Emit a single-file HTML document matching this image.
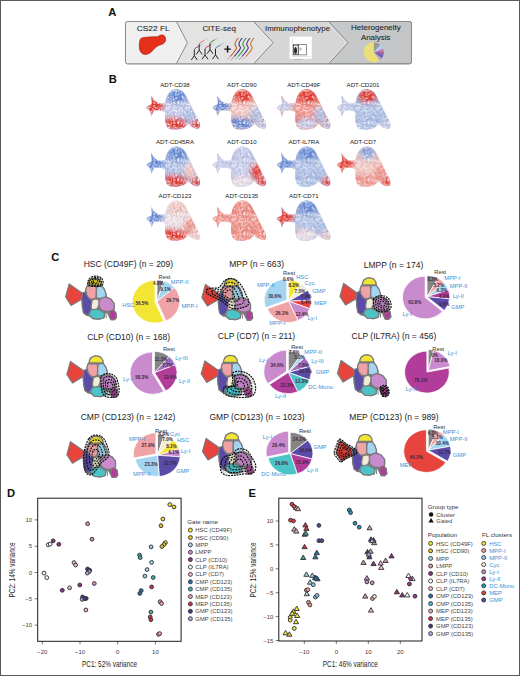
<!DOCTYPE html><html><head><meta charset="utf-8"><style>
html,body{margin:0;padding:0;background:#fff;}
body{width:520px;height:676px;overflow:hidden;position:relative;font-family:"Liberation Sans", sans-serif;}
#frame{position:absolute;left:0;top:0;width:518px;height:674px;border:1px solid #5a5a5a;}
svg{position:absolute;left:0;top:0;}
</style></head><body><div id="frame"></div>
<svg width="520" height="676" viewBox="0 0 520 676" font-family='"Liberation Sans", sans-serif'>

<text x="108.3" y="16.2" font-size="11.2" font-weight="bold" fill="#111">A</text>
<text x="108.8" y="83.1" font-size="11.2" font-weight="bold" fill="#111">B</text>
<text x="51.2" y="260.6" font-size="11.2" font-weight="bold" fill="#111">C</text>
<text x="7" y="497" font-size="11.2" font-weight="bold" fill="#111">D</text>
<text x="248.5" y="497" font-size="11.2" font-weight="bold" fill="#111">E</text>
<defs><linearGradient id="seg4" x1="0" y1="0" x2="1" y2="0"><stop offset="0" stop-color="#cfd0d1"/><stop offset="1" stop-color="#c3c5c7"/></linearGradient></defs>
<rect x="125.5" y="21.5" width="286.0" height="42.3" rx="2" fill="url(#seg4)" stroke="#8d8d8d" stroke-width="1"/>
<path d="M125.5,21.5 L328.6,21.5 L348.1,42.7 L328.6,63.8 L125.5,63.8 Z" fill="#d6d6d6"/>
<path d="M125.5,21.5 L253.6,21.5 L273.1,42.7 L253.6,63.8 L125.5,63.8 Z" fill="#e3e3e3"/>
<path d="M125.5,21.5 L176.4,21.5 L187.3,42.7 L176.4,63.8 L125.5,63.8 Z" fill="#efefef"/>
<path d="M176.4,21.5 L187.3,42.7 L176.4,63.8" fill="none" stroke="#7e7e7e" stroke-width="0.9"/>
<path d="M175.20000000000002,22.3 L186.0,42.7 L175.20000000000002,63.0" fill="none" stroke="#fafafa" stroke-width="0.6" opacity="0.8"/>
<path d="M253.6,21.5 L273.1,42.7 L253.6,63.8" fill="none" stroke="#7e7e7e" stroke-width="0.9"/>
<path d="M252.4,22.3 L271.8,42.7 L252.4,63.0" fill="none" stroke="#fafafa" stroke-width="0.6" opacity="0.8"/>
<path d="M328.6,21.5 L348.1,42.7 L328.6,63.8" fill="none" stroke="#7e7e7e" stroke-width="0.9"/>
<path d="M327.40000000000003,22.3 L346.8,42.7 L327.40000000000003,63.0" fill="none" stroke="#fafafa" stroke-width="0.6" opacity="0.8"/>
<rect x="125.5" y="21.5" width="286.0" height="42.3" rx="2" fill="none" stroke="#8a8a8a" stroke-width="1"/>
<text x="136.8" y="31.2" font-size="7.8" fill="#1e1e1e" stroke="#1e1e1e" stroke-width="0.08" textLength="32.8" lengthAdjust="spacingAndGlyphs">CS22 FL</text>
<text x="202.4" y="31.3" font-size="7.8" fill="#1e1e1e" stroke="#1e1e1e" stroke-width="0.08" textLength="33.4" lengthAdjust="spacingAndGlyphs">CITE-seq</text>
<text x="265.1" y="31.2" font-size="7.8" fill="#1e1e1e" stroke="#1e1e1e" stroke-width="0.08" textLength="64.9" lengthAdjust="spacingAndGlyphs">Immunophenotype</text>
<text x="351.0" y="30.2" font-size="7.8" fill="#1e1e1e" stroke="#1e1e1e" stroke-width="0.08" textLength="49.8" lengthAdjust="spacingAndGlyphs">Heterogeneity</text>
<text x="360.9" y="39.9" font-size="7.8" fill="#1e1e1e" stroke="#1e1e1e" stroke-width="0.08" textLength="29.6" lengthAdjust="spacingAndGlyphs">Analysis</text>
<path d="M140.9,38.4 C143,37.2 150,36.9 157.8,36.8 C159.3,35.4 161,34.8 162.6,35 C165.2,35.5 166.1,38.5 165.4,41 C164.7,43.2 162.5,44.4 160,44.9 C157.6,45.5 156,47 154.5,48.6 C152.5,51 150,53.6 147,54.3 C144,54.9 141,53.6 140,50.5 C139,47 139,41 140.9,38.4 Z" fill="#e6301c" stroke="#a8200f" stroke-width="0.7"/>
<path d="M191.3,60.0 L194.3,55.7 L197.3,60.0 M194.3,55.7 L194.3,49.7" stroke="#1a1a1a" stroke-width="0.95" fill="none" stroke-linejoin="round"/><path d="M194.3,49.7 Q194.9,47.7 197.3,47.1 L199.3,45.900000000000006" stroke="#7a4a9a" stroke-width="1.0" fill="none"/><path d="M199.3,45.900000000000006 L202.8,43.900000000000006" stroke="#7a4a9a" stroke-width="0.8" fill="none" opacity="0.4"/>
<path d="M196.2,54.5 L199.2,50.2 L202.2,54.5 M199.2,50.2 L199.2,44.2" stroke="#1a1a1a" stroke-width="0.95" fill="none" stroke-linejoin="round"/><path d="M199.2,44.2 Q199.79999999999998,42.2 202.2,41.6 L204.2,40.400000000000006" stroke="#e07090" stroke-width="1.0" fill="none"/><path d="M204.2,40.400000000000006 L207.7,38.400000000000006" stroke="#e07090" stroke-width="0.8" fill="none" opacity="0.4"/>
<path d="M202,59.3 L205,55 L208,59.3 M205,55 L205,49" stroke="#1a1a1a" stroke-width="0.95" fill="none" stroke-linejoin="round"/><path d="M205,49 Q205.6,47 208,46.4 L210,45.2" stroke="#c04a5a" stroke-width="1.0" fill="none"/><path d="M210,45.2 L213.5,43.2" stroke="#c04a5a" stroke-width="0.8" fill="none" opacity="0.4"/>
<path d="M207,53.8 L210,49.5 L213,53.8 M210,49.5 L210,43.5" stroke="#1a1a1a" stroke-width="0.95" fill="none" stroke-linejoin="round"/><path d="M210,43.5 Q210.6,41.5 213,40.9 L215,39.7" stroke="#3f8f55" stroke-width="1.0" fill="none"/><path d="M215,39.7 L218.5,37.7" stroke="#3f8f55" stroke-width="0.8" fill="none" opacity="0.4"/>
<path d="M212.5,59.099999999999994 L215.5,54.8 L218.5,59.099999999999994 M215.5,54.8 L215.5,48.8" stroke="#1a1a1a" stroke-width="0.95" fill="none" stroke-linejoin="round"/><path d="M215.5,48.8 Q216.1,46.8 218.5,46.199999999999996 L220.5,45.0" stroke="#4a80b0" stroke-width="1.0" fill="none"/><path d="M220.5,45.0 L224.0,43.0" stroke="#4a80b0" stroke-width="0.8" fill="none" opacity="0.4"/>
<path d="M224.3,49.1 H230.9 M227.6,45.8 V52.4" stroke="#111" stroke-width="1.45"/>
<path d="M238.3,38 C237.10000000000002,40 234.5,42 235.0,44.3 S237.10000000000002,47 236.5,48.4 S234.3,51.5 233.3,53 L230.3,56.5" stroke="#d0582a" stroke-width="1.1" fill="none"/>
<path d="M230.3,56.5 L227.3,59.8" stroke="#d0582a" stroke-width="0.9" fill="none" opacity="0.5"/>
<path d="M242.20000000000002,38 C241.00000000000003,40 238.4,42 238.9,44.3 S241.00000000000003,47 240.4,48.4 S238.20000000000002,51.5 237.20000000000002,53 L234.20000000000002,56.5" stroke="#3a2a8a" stroke-width="1.1" fill="none"/>
<path d="M234.20000000000002,56.5 L231.20000000000002,59.8" stroke="#3a2a8a" stroke-width="0.9" fill="none" opacity="0.5"/>
<path d="M246.10000000000002,38 C244.90000000000003,40 242.3,42 242.8,44.3 S244.90000000000003,47 244.3,48.4 S242.10000000000002,51.5 241.10000000000002,53 L238.10000000000002,56.5" stroke="#2a9a3a" stroke-width="1.1" fill="none"/>
<path d="M238.10000000000002,56.5 L235.10000000000002,59.8" stroke="#2a9a3a" stroke-width="0.9" fill="none" opacity="0.5"/>
<path d="M250.0,38 C248.8,40 246.2,42 246.7,44.3 S248.8,47 248.2,48.4 S246.0,51.5 245.0,53 L242.0,56.5" stroke="#5a2a8a" stroke-width="1.1" fill="none"/>
<path d="M242.0,56.5 L239.0,59.8" stroke="#5a2a8a" stroke-width="0.9" fill="none" opacity="0.5"/>
<path d="M253.9,38 C252.70000000000002,40 250.1,42 250.6,44.3 S252.70000000000002,47 252.1,48.4 S249.9,51.5 248.9,53 L245.9,56.5" stroke="#d8702a" stroke-width="1.1" fill="none"/>
<path d="M245.9,56.5 L242.9,59.8" stroke="#d8702a" stroke-width="0.9" fill="none" opacity="0.5"/>
<rect x="289.6" y="36.6" width="22.2" height="22.2" fill="#ffffff"/>
<path d="M292.5,38 V56.5 H310.5" stroke="#bbb" stroke-width="0.4" fill="none"/>
<rect x="293.2" y="44.3" width="13.3" height="10.6" fill="none" stroke="#444" stroke-width="0.6"/>
<rect x="293.6" y="45.5" width="4.6" height="9" fill="none" stroke="#333" stroke-width="0.5"/>
<ellipse cx="295.5" cy="50.5" rx="1.5" ry="3.5" fill="#2a2a2a"/>
<ellipse cx="300.5" cy="49" rx="1.2" ry="1.8" fill="#999" opacity="0.7"/>
<line x1="298.3" y1="44.3" x2="298.3" y2="54.9" stroke="#222" stroke-width="0.6"/>
<text x="293" y="59.6" font-size="1.6" fill="#777">-10 10  10  10</text>
<defs><clipPath id="picl"><rect x="360" y="40" width="24.2" height="24"/></clipPath></defs>
<g clip-path="url(#picl)" opacity="0.92">
<path d="M373.80,52.30 L373.80,42.30 A10,10 0 0 1 380.49,44.87 Z" fill="#9a9594"/>
<path d="M373.80,52.30 L380.49,44.87 A10,10 0 0 1 383.07,48.55 Z" fill="#a8d4ec"/>
<path d="M373.80,52.30 L383.07,48.55 A10,10 0 0 1 383.78,51.60 Z" fill="#c878c0"/>
<path d="M373.80,52.30 L383.78,51.60 A10,10 0 0 1 383.65,54.04 Z" fill="#b04a8a"/>
<path d="M373.80,52.30 L383.65,54.04 A10,10 0 0 1 381.68,58.46 Z" fill="#6a5ab0"/>
<path d="M373.80,52.30 L381.68,58.46 A10,10 0 0 1 379.39,60.59 Z" fill="#c8a0d8"/>
<path d="M373.80,52.30 L379.39,60.59 A10,10 0 1 1 373.80,42.30 Z" fill="#f0e274"/>
</g>
<defs><filter id="ub" x="-30%" y="-30%" width="160%" height="160%"><feGaussianBlur stdDeviation="2.4"/></filter>
<pattern id="spk" width="20" height="20" patternUnits="userSpaceOnUse"><circle cx="4.8" cy="10.9" r="0.56" fill="#5a0010" opacity="0.13"/><circle cx="12.5" cy="1.3" r="0.45" fill="#5a0010" opacity="0.15"/><circle cx="5.2" cy="4.7" r="0.75" fill="#5a0010" opacity="0.12"/><circle cx="16.7" cy="9.5" r="0.64" fill="#5a0010" opacity="0.09"/><circle cx="12.7" cy="17.4" r="0.61" fill="#5a0010" opacity="0.14"/><circle cx="13.4" cy="1.3" r="0.68" fill="#5a0010" opacity="0.13"/><circle cx="6.0" cy="0.6" r="0.71" fill="#5a0010" opacity="0.12"/><circle cx="14.4" cy="17.6" r="0.66" fill="#5a0010" opacity="0.15"/><circle cx="7.9" cy="16.0" r="0.58" fill="#5a0010" opacity="0.15"/><circle cx="17.6" cy="1.9" r="0.49" fill="#5a0010" opacity="0.10"/><circle cx="19.3" cy="8.7" r="0.64" fill="#5a0010" opacity="0.10"/><circle cx="10.1" cy="7.7" r="0.56" fill="#5a0010" opacity="0.13"/><circle cx="11.7" cy="18.1" r="0.65" fill="#5a0010" opacity="0.15"/><circle cx="17.1" cy="19.8" r="0.65" fill="#5a0010" opacity="0.09"/><circle cx="17.2" cy="19.3" r="0.72" fill="#5a0010" opacity="0.13"/><circle cx="14.3" cy="4.2" r="0.70" fill="#5a0010" opacity="0.13"/><circle cx="5.7" cy="1.3" r="0.71" fill="#5a0010" opacity="0.16"/><circle cx="1.8" cy="16.0" r="0.57" fill="#5a0010" opacity="0.09"/><circle cx="5.9" cy="15.4" r="0.71" fill="#5a0010" opacity="0.08"/><circle cx="12.3" cy="0.9" r="0.67" fill="#5a0010" opacity="0.11"/><circle cx="17.6" cy="19.6" r="0.60" fill="#5a0010" opacity="0.16"/><circle cx="6.2" cy="1.5" r="0.63" fill="#5a0010" opacity="0.08"/><circle cx="3.9" cy="8.2" r="0.63" fill="#5a0010" opacity="0.09"/><circle cx="0.8" cy="17.4" r="0.54" fill="#5a0010" opacity="0.16"/><circle cx="17.9" cy="7.6" r="0.59" fill="#5a0010" opacity="0.12"/><circle cx="12.9" cy="11.9" r="0.62" fill="#5a0010" opacity="0.13"/><circle cx="18.8" cy="10.1" r="0.58" fill="#5a0010" opacity="0.14"/><circle cx="4.8" cy="6.0" r="0.74" fill="#5a0010" opacity="0.12"/><circle cx="11.0" cy="0.2" r="0.57" fill="#5a0010" opacity="0.13"/><circle cx="0.4" cy="12.3" r="0.64" fill="#5a0010" opacity="0.08"/><circle cx="12.5" cy="9.3" r="0.65" fill="#5a0010" opacity="0.11"/><circle cx="14.1" cy="14.8" r="0.46" fill="#5a0010" opacity="0.08"/><circle cx="13.5" cy="19.3" r="0.53" fill="#5a0010" opacity="0.12"/><circle cx="11.9" cy="6.4" r="0.56" fill="#5a0010" opacity="0.11"/><circle cx="7.4" cy="11.9" r="0.54" fill="#5a0010" opacity="0.11"/><circle cx="15.4" cy="0.5" r="0.62" fill="#5a0010" opacity="0.14"/><circle cx="6.2" cy="4.5" r="0.69" fill="#5a0010" opacity="0.10"/><circle cx="3.7" cy="8.7" r="0.66" fill="#5a0010" opacity="0.09"/><circle cx="6.4" cy="6.7" r="0.70" fill="#5a0010" opacity="0.12"/><circle cx="17.1" cy="3.4" r="0.55" fill="#5a0010" opacity="0.13"/><circle cx="17.7" cy="9.0" r="0.52" fill="#5a0010" opacity="0.09"/><circle cx="10.6" cy="3.8" r="0.69" fill="#5a0010" opacity="0.15"/><circle cx="3.7" cy="5.6" r="0.69" fill="#5a0010" opacity="0.13"/><circle cx="16.1" cy="6.9" r="0.49" fill="#5a0010" opacity="0.10"/><circle cx="15.9" cy="5.4" r="0.55" fill="#5a0010" opacity="0.11"/><circle cx="8.4" cy="8.2" r="0.73" fill="#5a0010" opacity="0.09"/><circle cx="0.1" cy="18.9" r="0.71" fill="#5a0010" opacity="0.16"/><circle cx="8.7" cy="19.0" r="0.73" fill="#5a0010" opacity="0.10"/><circle cx="14.9" cy="16.7" r="0.65" fill="#5a0010" opacity="0.12"/><circle cx="5.8" cy="6.8" r="0.52" fill="#5a0010" opacity="0.09"/><circle cx="11.8" cy="5.7" r="0.69" fill="#5a0010" opacity="0.08"/><circle cx="18.1" cy="13.9" r="0.73" fill="#5a0010" opacity="0.15"/><circle cx="18.0" cy="11.5" r="0.45" fill="#5a0010" opacity="0.14"/><circle cx="3.4" cy="6.0" r="0.65" fill="#5a0010" opacity="0.12"/><circle cx="8.3" cy="18.8" r="0.63" fill="#5a0010" opacity="0.11"/><circle cx="5.0" cy="17.2" r="0.59" fill="#5a0010" opacity="0.14"/><circle cx="7.0" cy="3.9" r="0.61" fill="#5a0010" opacity="0.15"/><circle cx="3.4" cy="15.8" r="0.73" fill="#5a0010" opacity="0.14"/><circle cx="16.5" cy="0.2" r="0.64" fill="#5a0010" opacity="0.15"/><circle cx="1.0" cy="5.4" r="0.53" fill="#5a0010" opacity="0.12"/><circle cx="8.5" cy="9.5" r="0.75" fill="#fff" opacity="0.45"/><circle cx="1.1" cy="2.5" r="0.46" fill="#fff" opacity="0.48"/><circle cx="19.5" cy="17.1" r="0.44" fill="#fff" opacity="0.68"/><circle cx="6.3" cy="6.3" r="0.56" fill="#fff" opacity="0.74"/><circle cx="11.7" cy="7.2" r="0.49" fill="#fff" opacity="0.60"/><circle cx="2.5" cy="11.1" r="0.72" fill="#fff" opacity="0.62"/><circle cx="1.6" cy="3.6" r="0.57" fill="#fff" opacity="0.72"/><circle cx="15.7" cy="7.6" r="0.76" fill="#fff" opacity="0.73"/><circle cx="8.6" cy="7.4" r="0.62" fill="#fff" opacity="0.77"/><circle cx="8.4" cy="13.9" r="0.61" fill="#fff" opacity="0.56"/><circle cx="10.7" cy="13.9" r="0.43" fill="#fff" opacity="0.64"/><circle cx="8.5" cy="17.6" r="0.82" fill="#fff" opacity="0.62"/><circle cx="18.0" cy="15.8" r="0.52" fill="#fff" opacity="0.66"/><circle cx="2.5" cy="16.3" r="0.70" fill="#fff" opacity="0.85"/><circle cx="15.8" cy="13.4" r="0.73" fill="#fff" opacity="0.70"/><circle cx="2.1" cy="11.8" r="0.40" fill="#fff" opacity="0.51"/><circle cx="15.5" cy="0.9" r="0.44" fill="#fff" opacity="0.49"/><circle cx="17.6" cy="3.6" r="0.41" fill="#fff" opacity="0.83"/><circle cx="2.4" cy="16.9" r="0.70" fill="#fff" opacity="0.83"/><circle cx="19.0" cy="11.6" r="0.76" fill="#fff" opacity="0.47"/><circle cx="15.3" cy="10.2" r="0.72" fill="#fff" opacity="0.50"/><circle cx="15.0" cy="18.7" r="0.43" fill="#fff" opacity="0.60"/><circle cx="11.3" cy="16.6" r="0.51" fill="#fff" opacity="0.53"/><circle cx="5.0" cy="12.3" r="0.74" fill="#fff" opacity="0.63"/><circle cx="7.3" cy="7.9" r="0.56" fill="#fff" opacity="0.64"/><circle cx="1.7" cy="10.0" r="0.84" fill="#fff" opacity="0.64"/><circle cx="14.9" cy="3.2" r="0.71" fill="#fff" opacity="0.79"/><circle cx="13.5" cy="10.3" r="0.62" fill="#fff" opacity="0.74"/><circle cx="17.9" cy="3.0" r="0.44" fill="#fff" opacity="0.79"/><circle cx="18.3" cy="10.3" r="0.60" fill="#fff" opacity="0.77"/><circle cx="3.7" cy="5.3" r="0.49" fill="#fff" opacity="0.71"/><circle cx="6.3" cy="4.6" r="0.71" fill="#fff" opacity="0.88"/><circle cx="5.9" cy="14.1" r="0.59" fill="#fff" opacity="0.83"/><circle cx="11.7" cy="5.3" r="0.50" fill="#fff" opacity="0.46"/><circle cx="9.6" cy="7.7" r="0.48" fill="#fff" opacity="0.61"/><circle cx="6.4" cy="15.5" r="0.46" fill="#fff" opacity="0.90"/><circle cx="9.6" cy="12.0" r="0.61" fill="#fff" opacity="0.83"/><circle cx="16.4" cy="11.1" r="0.62" fill="#fff" opacity="0.77"/><circle cx="17.1" cy="8.0" r="0.73" fill="#fff" opacity="0.88"/><circle cx="9.3" cy="4.6" r="0.51" fill="#fff" opacity="0.77"/><circle cx="13.5" cy="19.2" r="0.78" fill="#fff" opacity="0.56"/><circle cx="3.8" cy="5.2" r="0.48" fill="#fff" opacity="0.77"/><circle cx="17.2" cy="18.0" r="0.51" fill="#fff" opacity="0.84"/><circle cx="6.3" cy="8.5" r="0.73" fill="#fff" opacity="0.49"/><circle cx="1.9" cy="16.7" r="0.53" fill="#fff" opacity="0.61"/><circle cx="11.6" cy="13.5" r="0.40" fill="#fff" opacity="0.60"/><circle cx="8.7" cy="9.7" r="0.49" fill="#fff" opacity="0.71"/><circle cx="19.1" cy="7.8" r="0.64" fill="#fff" opacity="0.50"/><circle cx="5.5" cy="13.3" r="0.45" fill="#fff" opacity="0.85"/><circle cx="18.2" cy="1.9" r="0.82" fill="#fff" opacity="0.62"/><circle cx="15.4" cy="15.1" r="0.53" fill="#fff" opacity="0.75"/><circle cx="13.1" cy="16.1" r="0.52" fill="#fff" opacity="0.79"/><circle cx="19.2" cy="13.5" r="0.64" fill="#fff" opacity="0.50"/><circle cx="9.9" cy="7.0" r="0.72" fill="#fff" opacity="0.76"/><circle cx="11.3" cy="3.6" r="0.69" fill="#fff" opacity="0.73"/><circle cx="3.6" cy="17.8" r="0.69" fill="#fff" opacity="0.51"/><circle cx="18.6" cy="2.8" r="0.55" fill="#fff" opacity="0.77"/><circle cx="11.9" cy="11.1" r="0.69" fill="#fff" opacity="0.66"/><circle cx="6.2" cy="3.5" r="0.43" fill="#fff" opacity="0.77"/><circle cx="15.1" cy="10.9" r="0.73" fill="#fff" opacity="0.61"/><circle cx="5.3" cy="7.7" r="0.79" fill="#fff" opacity="0.47"/><circle cx="10.1" cy="4.9" r="0.75" fill="#fff" opacity="0.61"/><circle cx="6.7" cy="8.1" r="0.64" fill="#fff" opacity="0.80"/><circle cx="7.1" cy="16.9" r="0.45" fill="#fff" opacity="0.57"/><circle cx="2.0" cy="2.3" r="0.75" fill="#fff" opacity="0.78"/><circle cx="3.7" cy="3.8" r="0.59" fill="#fff" opacity="0.78"/><circle cx="16.3" cy="15.0" r="0.67" fill="#fff" opacity="0.52"/><circle cx="8.0" cy="3.9" r="0.64" fill="#fff" opacity="0.71"/><circle cx="4.0" cy="5.0" r="0.75" fill="#fff" opacity="0.46"/><circle cx="16.1" cy="17.8" r="0.83" fill="#fff" opacity="0.62"/><circle cx="11.1" cy="11.7" r="0.69" fill="#fff" opacity="0.89"/><circle cx="13.7" cy="6.0" r="0.79" fill="#fff" opacity="0.67"/><circle cx="12.0" cy="14.5" r="0.40" fill="#fff" opacity="0.80"/><circle cx="13.2" cy="9.8" r="0.64" fill="#fff" opacity="0.66"/><circle cx="3.9" cy="10.6" r="0.42" fill="#fff" opacity="0.68"/><circle cx="12.9" cy="8.9" r="0.65" fill="#fff" opacity="0.88"/><circle cx="17.8" cy="2.7" r="0.76" fill="#fff" opacity="0.73"/><circle cx="1.0" cy="7.2" r="0.51" fill="#fff" opacity="0.49"/><circle cx="10.8" cy="18.6" r="0.55" fill="#fff" opacity="0.84"/><circle cx="13.9" cy="2.7" r="0.79" fill="#fff" opacity="0.72"/><circle cx="18.5" cy="14.3" r="0.73" fill="#fff" opacity="0.60"/><circle cx="16.1" cy="18.6" r="0.79" fill="#fff" opacity="0.65"/><circle cx="15.1" cy="9.7" r="0.45" fill="#fff" opacity="0.47"/><circle cx="1.6" cy="4.0" r="0.47" fill="#fff" opacity="0.67"/><circle cx="14.0" cy="10.7" r="0.59" fill="#fff" opacity="0.74"/><circle cx="6.1" cy="9.3" r="0.74" fill="#fff" opacity="0.63"/><circle cx="3.6" cy="18.0" r="0.72" fill="#fff" opacity="0.62"/><circle cx="7.4" cy="10.6" r="0.67" fill="#fff" opacity="0.55"/><circle cx="0.1" cy="4.2" r="0.75" fill="#fff" opacity="0.51"/><circle cx="9.2" cy="3.9" r="0.49" fill="#fff" opacity="0.53"/><circle cx="8.1" cy="3.4" r="0.41" fill="#fff" opacity="0.50"/><circle cx="3.4" cy="9.8" r="0.43" fill="#fff" opacity="0.46"/><circle cx="9.0" cy="8.2" r="0.72" fill="#fff" opacity="0.47"/><circle cx="8.1" cy="7.9" r="0.41" fill="#fff" opacity="0.88"/><circle cx="4.4" cy="1.9" r="0.61" fill="#fff" opacity="0.52"/><circle cx="12.4" cy="6.9" r="0.46" fill="#fff" opacity="0.47"/><circle cx="14.6" cy="5.5" r="0.75" fill="#fff" opacity="0.66"/><circle cx="18.7" cy="6.0" r="0.51" fill="#fff" opacity="0.57"/><circle cx="16.3" cy="12.6" r="0.56" fill="#fff" opacity="0.49"/><circle cx="13.6" cy="19.4" r="0.67" fill="#fff" opacity="0.45"/><circle cx="0.6" cy="1.8" r="0.48" fill="#fff" opacity="0.47"/><circle cx="1.1" cy="13.1" r="0.81" fill="#fff" opacity="0.54"/><circle cx="19.5" cy="9.5" r="0.76" fill="#fff" opacity="0.86"/><circle cx="18.8" cy="0.7" r="0.54" fill="#fff" opacity="0.72"/><circle cx="18.9" cy="1.8" r="0.53" fill="#fff" opacity="0.83"/><circle cx="2.3" cy="7.8" r="0.55" fill="#fff" opacity="0.76"/><circle cx="18.6" cy="3.5" r="0.73" fill="#fff" opacity="0.78"/><circle cx="16.7" cy="11.1" r="0.82" fill="#fff" opacity="0.61"/><circle cx="8.3" cy="4.6" r="0.75" fill="#fff" opacity="0.67"/><circle cx="5.4" cy="3.4" r="0.72" fill="#fff" opacity="0.72"/><circle cx="14.2" cy="7.7" r="0.62" fill="#fff" opacity="0.52"/><circle cx="14.2" cy="0.5" r="0.61" fill="#fff" opacity="0.79"/><circle cx="13.5" cy="1.9" r="0.51" fill="#fff" opacity="0.83"/><circle cx="12.8" cy="17.6" r="0.79" fill="#fff" opacity="0.65"/><circle cx="17.9" cy="14.7" r="0.55" fill="#fff" opacity="0.62"/><circle cx="1.4" cy="8.0" r="0.83" fill="#fff" opacity="0.50"/><circle cx="11.4" cy="2.2" r="0.44" fill="#fff" opacity="0.74"/><circle cx="4.8" cy="1.0" r="0.47" fill="#fff" opacity="0.74"/><circle cx="11.7" cy="0.2" r="0.50" fill="#fff" opacity="0.89"/><circle cx="4.4" cy="11.2" r="0.59" fill="#fff" opacity="0.80"/></pattern>
<clipPath id="uclip"><path d="M174.80,89.30 C175.88,89.13 177.38,89.20 178.50,89.50 C179.62,89.80 181.28,90.50 182.30,91.30 C183.32,92.09 184.49,93.64 185.30,94.80 C186.11,95.95 187.07,97.84 187.70,99.00 C188.33,100.16 188.97,101.45 189.50,102.50 C190.03,103.55 190.63,104.83 191.20,106.00 C191.77,107.17 192.66,109.01 193.30,110.30 C193.95,111.59 194.87,113.37 195.50,114.60 C196.13,115.83 196.87,117.27 197.50,118.50 C198.13,119.73 199.34,121.49 199.70,122.80 C200.06,124.11 200.16,126.30 199.90,127.20 C199.65,128.10 198.66,128.59 198.00,128.80 C197.34,129.01 196.26,128.78 195.50,128.60 C194.74,128.42 193.72,128.05 192.90,127.60 C192.08,127.15 190.78,126.02 190.00,125.60 C189.22,125.18 188.52,124.56 187.70,124.80 C186.88,125.04 185.53,126.60 184.50,127.20 C183.47,127.80 182.08,128.44 180.80,128.80 C179.53,129.16 177.47,129.54 176.00,129.60 C174.53,129.66 172.35,129.60 171.00,129.20 C169.65,128.79 167.87,128.06 167.00,126.90 C166.13,125.75 165.50,123.14 165.20,121.50 C164.90,119.86 165.06,117.34 165.00,116.00 C164.94,114.66 165.03,113.29 164.80,112.60 C164.58,111.91 164.38,111.75 163.50,111.40 C162.62,111.06 160.37,110.31 158.90,110.30 C157.43,110.28 154.79,110.40 153.70,111.30 C152.60,112.20 152.17,116.36 151.60,116.30 C151.03,116.24 150.68,112.19 149.90,110.90 C149.12,109.61 146.50,108.53 146.40,107.70 C146.30,106.88 148.39,106.08 149.20,105.40 C150.01,104.73 151.53,104.67 151.80,103.20 C152.07,101.73 150.43,95.84 151.00,95.60 C151.57,95.36 154.13,100.43 155.60,101.60 C157.07,102.77 159.36,103.31 160.80,103.40 C162.24,103.49 164.38,103.04 165.20,102.20 C166.02,101.36 165.81,99.06 166.30,97.80 C166.80,96.54 167.75,94.88 168.50,93.80 C169.25,92.72 170.36,91.27 171.30,90.60 C172.25,89.92 173.72,89.47 174.80,89.30 Z"/></clipPath>
</defs>
<text x="175" y="87.0" font-size="6.1" fill="#222" text-anchor="middle">ADT-CD38</text>
<g transform="translate(0.00,0.00)"><g clip-path="url(#uclip)"><rect x="140" y="85" width="66" height="52" fill="#bfc8e8"/><g filter="url(#ub)"><ellipse cx="170" cy="123" rx="6" ry="6" fill="#ec8f86"/><ellipse cx="176" cy="124" rx="11" ry="6" fill="#e0352b"/><ellipse cx="179" cy="111" rx="11" ry="7" fill="#bfc8e8"/><ellipse cx="190" cy="114" rx="6" ry="8" fill="#a9bde4"/><ellipse cx="177" cy="96" rx="9" ry="7" fill="#5f86d3"/><ellipse cx="176.5" cy="93" rx="6" ry="4" fill="#5f86d3"/><ellipse cx="154" cy="106" rx="9" ry="8" fill="#e0352b"/><ellipse cx="196" cy="125" rx="5" ry="5" fill="#e0352b"/></g><rect x="130" y="80" width="80" height="60" fill="url(#spk)"/></g></g>
<text x="241.8" y="87.0" font-size="6.1" fill="#222" text-anchor="middle">ADT-CD90</text>
<g transform="translate(66.10,0.00)"><g clip-path="url(#uclip)"><rect x="140" y="85" width="66" height="52" fill="#efc3bd"/><g filter="url(#ub)"><ellipse cx="170" cy="123" rx="6" ry="6" fill="#5f86d3"/><ellipse cx="176" cy="124" rx="11" ry="6" fill="#5f86d3"/><ellipse cx="179" cy="111" rx="11" ry="7" fill="#efc3bd"/><ellipse cx="190" cy="114" rx="6" ry="8" fill="#a9bde4"/><ellipse cx="177" cy="96" rx="9" ry="7" fill="#e0352b"/><ellipse cx="176.5" cy="93" rx="6" ry="4" fill="#e0352b"/><ellipse cx="154" cy="106" rx="9" ry="8" fill="#5f86d3"/><ellipse cx="196" cy="125" rx="5" ry="5" fill="#a9bde4"/></g><rect x="130" y="80" width="80" height="60" fill="url(#spk)"/></g></g>
<text x="303.8" y="87.0" font-size="6.1" fill="#222" text-anchor="middle">ADT-CD49F</text>
<g transform="translate(130.30,0.00)"><g clip-path="url(#uclip)"><rect x="140" y="85" width="66" height="52" fill="#ec8f86"/><g filter="url(#ub)"><ellipse cx="170" cy="123" rx="6" ry="6" fill="#e0352b"/><ellipse cx="176" cy="124" rx="11" ry="6" fill="#bfc8e8"/><ellipse cx="179" cy="111" rx="11" ry="7" fill="#ec8f86"/><ellipse cx="190" cy="114" rx="6" ry="8" fill="#a9bde4"/><ellipse cx="177" cy="96" rx="9" ry="7" fill="#e0352b"/><ellipse cx="176.5" cy="93" rx="6" ry="4" fill="#e0352b"/><ellipse cx="154" cy="106" rx="9" ry="8" fill="#bfc8e8"/><ellipse cx="196" cy="125" rx="5" ry="5" fill="#a9bde4"/></g><rect x="130" y="80" width="80" height="60" fill="url(#spk)"/></g></g>
<text x="363" y="87.0" font-size="6.1" fill="#222" text-anchor="middle">ADT-CD201</text>
<g transform="translate(190.40,0.00)"><g clip-path="url(#uclip)"><rect x="140" y="85" width="66" height="52" fill="#a9bde4"/><g filter="url(#ub)"><ellipse cx="170" cy="123" rx="6" ry="6" fill="#bfc8e8"/><ellipse cx="176" cy="124" rx="11" ry="6" fill="#a9bde4"/><ellipse cx="179" cy="111" rx="11" ry="7" fill="#a9bde4"/><ellipse cx="190" cy="114" rx="6" ry="8" fill="#a9bde4"/><ellipse cx="177" cy="96" rx="9" ry="7" fill="#e0352b"/><ellipse cx="176.5" cy="93" rx="6" ry="4" fill="#e0352b"/><ellipse cx="154" cy="106" rx="9" ry="8" fill="#bfc8e8"/><ellipse cx="196" cy="125" rx="5" ry="5" fill="#bfc8e8"/></g><rect x="130" y="80" width="80" height="60" fill="url(#spk)"/></g></g>
<text x="175" y="144.0" font-size="6.1" fill="#222" text-anchor="middle">ADT-CD45RA</text>
<g transform="translate(0.00,57.30)"><g clip-path="url(#uclip)"><rect x="140" y="85" width="66" height="52" fill="#a9bde4"/><g filter="url(#ub)"><ellipse cx="170" cy="123" rx="6" ry="6" fill="#ec8f86"/><ellipse cx="176" cy="124" rx="11" ry="6" fill="#e0352b"/><ellipse cx="179" cy="111" rx="11" ry="7" fill="#a9bde4"/><ellipse cx="190" cy="114" rx="6" ry="8" fill="#efc3bd"/><ellipse cx="177" cy="96" rx="9" ry="7" fill="#5f86d3"/><ellipse cx="176.5" cy="93" rx="6" ry="4" fill="#5f86d3"/><ellipse cx="154" cy="106" rx="9" ry="8" fill="#5f86d3"/><ellipse cx="196" cy="125" rx="5" ry="5" fill="#e0352b"/></g><rect x="130" y="80" width="80" height="60" fill="url(#spk)"/></g></g>
<text x="241.8" y="144.0" font-size="6.1" fill="#222" text-anchor="middle">ADT-CD10</text>
<g transform="translate(66.10,57.30)"><g clip-path="url(#uclip)"><rect x="140" y="85" width="66" height="52" fill="#bfc8e8"/><g filter="url(#ub)"><ellipse cx="170" cy="123" rx="6" ry="6" fill="#bfc8e8"/><ellipse cx="176" cy="124" rx="11" ry="6" fill="#e9dde3"/><ellipse cx="179" cy="111" rx="11" ry="7" fill="#bfc8e8"/><ellipse cx="190" cy="114" rx="6" ry="8" fill="#e0352b"/><ellipse cx="177" cy="96" rx="9" ry="7" fill="#bfc8e8"/><ellipse cx="176.5" cy="93" rx="6" ry="4" fill="#bfc8e8"/><ellipse cx="154" cy="106" rx="9" ry="8" fill="#bfc8e8"/><ellipse cx="196" cy="125" rx="5" ry="5" fill="#e0352b"/></g><rect x="130" y="80" width="80" height="60" fill="url(#spk)"/></g></g>
<text x="303.8" y="144.0" font-size="6.1" fill="#222" text-anchor="middle">ADT-IL7RA</text>
<g transform="translate(130.30,57.30)"><g clip-path="url(#uclip)"><rect x="140" y="85" width="66" height="52" fill="#a9bde4"/><g filter="url(#ub)"><ellipse cx="170" cy="123" rx="6" ry="6" fill="#a9bde4"/><ellipse cx="176" cy="124" rx="11" ry="6" fill="#a9bde4"/><ellipse cx="179" cy="111" rx="11" ry="7" fill="#a9bde4"/><ellipse cx="190" cy="114" rx="6" ry="8" fill="#a9bde4"/><ellipse cx="177" cy="96" rx="9" ry="7" fill="#5f86d3"/><ellipse cx="176.5" cy="93" rx="6" ry="4" fill="#5f86d3"/><ellipse cx="154" cy="106" rx="9" ry="8" fill="#5f86d3"/><ellipse cx="196" cy="125" rx="5" ry="5" fill="#e0352b"/></g><rect x="130" y="80" width="80" height="60" fill="url(#spk)"/></g></g>
<text x="363" y="144.0" font-size="6.1" fill="#222" text-anchor="middle">ADT-CD7</text>
<g transform="translate(190.40,57.30)"><g clip-path="url(#uclip)"><rect x="140" y="85" width="66" height="52" fill="#efc3bd"/><g filter="url(#ub)"><ellipse cx="170" cy="123" rx="6" ry="6" fill="#ec8f86"/><ellipse cx="176" cy="124" rx="11" ry="6" fill="#ec8f86"/><ellipse cx="179" cy="111" rx="11" ry="7" fill="#efc3bd"/><ellipse cx="190" cy="114" rx="6" ry="8" fill="#ec8f86"/><ellipse cx="177" cy="96" rx="9" ry="7" fill="#a9bde4"/><ellipse cx="176.5" cy="93" rx="6" ry="4" fill="#5f86d3"/><ellipse cx="154" cy="106" rx="9" ry="8" fill="#e0352b"/><ellipse cx="196" cy="125" rx="5" ry="5" fill="#e0352b"/></g><rect x="130" y="80" width="80" height="60" fill="url(#spk)"/></g></g>
<text x="175" y="198.4" font-size="6.1" fill="#222" text-anchor="middle">ADT-CD123</text>
<g transform="translate(0.00,111.20)"><g clip-path="url(#uclip)"><rect x="140" y="85" width="66" height="52" fill="#e9dde3"/><g filter="url(#ub)"><ellipse cx="170" cy="123" rx="6" ry="6" fill="#e0352b"/><ellipse cx="176" cy="124" rx="11" ry="6" fill="#e0352b"/><ellipse cx="179" cy="111" rx="11" ry="7" fill="#e9dde3"/><ellipse cx="190" cy="114" rx="6" ry="8" fill="#ec8f86"/><ellipse cx="177" cy="96" rx="9" ry="7" fill="#efc3bd"/><ellipse cx="176.5" cy="93" rx="6" ry="4" fill="#efc3bd"/><ellipse cx="154" cy="106" rx="9" ry="8" fill="#5f86d3"/><ellipse cx="196" cy="125" rx="5" ry="5" fill="#efc3bd"/></g><rect x="130" y="80" width="80" height="60" fill="url(#spk)"/></g></g>
<text x="241.8" y="198.4" font-size="6.1" fill="#222" text-anchor="middle">ADT-CD135</text>
<g transform="translate(66.10,111.20)"><g clip-path="url(#uclip)"><rect x="140" y="85" width="66" height="52" fill="#ec8f86"/><g filter="url(#ub)"><ellipse cx="170" cy="123" rx="6" ry="6" fill="#ec8f86"/><ellipse cx="176" cy="124" rx="11" ry="6" fill="#ec8f86"/><ellipse cx="179" cy="111" rx="11" ry="7" fill="#ec8f86"/><ellipse cx="190" cy="114" rx="6" ry="8" fill="#ec8f86"/><ellipse cx="177" cy="96" rx="9" ry="7" fill="#ec8f86"/><ellipse cx="176.5" cy="93" rx="6" ry="4" fill="#ec8f86"/><ellipse cx="154" cy="106" rx="9" ry="8" fill="#ec8f86"/><ellipse cx="196" cy="125" rx="5" ry="5" fill="#ec8f86"/></g><rect x="130" y="80" width="80" height="60" fill="url(#spk)"/></g></g>
<text x="303.8" y="198.4" font-size="6.1" fill="#222" text-anchor="middle">ADT-CD71</text>
<g transform="translate(130.30,111.20)"><g clip-path="url(#uclip)"><rect x="140" y="85" width="66" height="52" fill="#a9bde4"/><g filter="url(#ub)"><ellipse cx="170" cy="123" rx="6" ry="6" fill="#efc3bd"/><ellipse cx="176" cy="124" rx="11" ry="6" fill="#e9dde3"/><ellipse cx="179" cy="111" rx="11" ry="7" fill="#a9bde4"/><ellipse cx="190" cy="114" rx="6" ry="8" fill="#a9bde4"/><ellipse cx="177" cy="96" rx="9" ry="7" fill="#5f86d3"/><ellipse cx="176.5" cy="93" rx="6" ry="4" fill="#5f86d3"/><ellipse cx="154" cy="106" rx="9" ry="8" fill="#e0352b"/><ellipse cx="196" cy="125" rx="5" ry="5" fill="#efc3bd"/></g><rect x="130" y="80" width="80" height="60" fill="url(#spk)"/></g></g>
<defs><g id="cmap"><path d="M22.20,7.80 L23.80,2.90 L28.70,0.80 L33.50,1.80 L35.70,5.10 L36.20,8.30 L38.90,12.10 L40.50,16.90 L40.50,19.60 L45.40,21.80 L48.60,26.10 L48.60,31.50 L47.50,32.50 L50.20,35.20 L50.80,40.10 L48.60,42.20 L45.40,42.20 L43.80,39.00 L41.10,34.20 L38.90,35.80 L38.40,40.10 L33.50,41.70 L27.60,41.20 L24.40,38.50 L21.20,37.90 L17.90,35.20 L16.80,29.30 L16.30,21.80 L16.80,15.80 L20.10,14.20 L20.10,12.60 L21.20,8.80 Z" fill="#7a7a7a" stroke="#7a7a7a" stroke-width="1.2" stroke-linejoin="round"/><path d="M3.60,6.40 L16.80,15.80 L16.50,21.50 L5.50,28.00 L0.00,19.40 Z" fill="#e6443d" stroke="#7a7a7a" stroke-width="1.2" stroke-linejoin="round"/><path d="M16.80,15.80 L20.10,14.20 L21.20,17.50 L23.80,21.20 L26.50,22.80 L26.50,26.10 L25.50,32.50 L23.80,35.80 L21.20,37.90 L17.90,35.20 L16.80,29.30 L16.30,21.80 Z" fill="#5a4ba8" stroke="#7a7a7a" stroke-width="1.2" stroke-linejoin="round"/><path d="M21.20,8.80 L30.30,8.80 L30.80,13.20 L30.30,20.20 L27.60,21.80 L23.80,21.20 L21.20,17.50 L20.10,12.60 Z" fill="#f0a3a6" stroke="#7a7a7a" stroke-width="1.2" stroke-linejoin="round"/><path d="M31.40,8.80 L36.20,8.30 L38.90,12.10 L40.50,16.90 L39.50,20.20 L34.60,21.20 L30.80,20.20 L30.80,13.20 Z" fill="#a3d5f0" stroke="#7a7a7a" stroke-width="1.2" stroke-linejoin="round"/><path d="M26.50,22.80 L30.30,21.20 L33.50,22.80 L33.50,27.20 L31.40,31.50 L26.50,32.50 L25.50,29.30 Z" fill="#f1ecd6" stroke="#7a7a7a" stroke-width="1.2" stroke-linejoin="round"/><path d="M33.50,22.80 L36.80,20.20 L40.50,19.60 L45.40,21.80 L48.60,26.10 L48.60,31.50 L45.90,33.60 L41.10,34.20 L36.80,33.10 L34.10,30.40 L33.50,27.20 Z" fill="#c98bcd" stroke="#7a7a7a" stroke-width="1.2" stroke-linejoin="round"/><path d="M25.50,32.50 L31.40,31.50 L35.20,33.10 L38.90,35.80 L38.40,40.10 L33.50,41.70 L27.60,41.20 L24.40,38.50 L23.80,35.80 Z" fill="#4cc3c6" stroke="#7a7a7a" stroke-width="1.2" stroke-linejoin="round"/><path d="M44.30,33.60 L47.50,32.50 L50.20,35.20 L50.80,40.10 L48.60,42.20 L45.40,42.20 L43.80,39.00 Z" fill="#b23c9a" stroke="#7a7a7a" stroke-width="1.2" stroke-linejoin="round"/><path d="M22.2,7.9 C22.2,3.5 25.5,0.8 29,0.8 C32.8,0.8 36.2,3.2 36.2,7.9 Z" fill="#f3e534" stroke="#7a7a7a" stroke-width="1.2" stroke-linejoin="round"/><path d="M40.2,34.3 L40.6,40.5" stroke="#7a7a7a" stroke-width="1"/></g></defs>
<defs><pattern id="hlp" width="6" height="6" patternUnits="userSpaceOnUse"><line x1="2.71" y1="3.36" x2="1.58" y2="3.64" stroke="#111" stroke-width="0.75" stroke-linecap="round"/><line x1="3.05" y1="3.52" x2="4.06" y2="4.19" stroke="#111" stroke-width="0.75" stroke-linecap="round"/><line x1="3.78" y1="4.76" x2="4.78" y2="5.06" stroke="#111" stroke-width="0.75" stroke-linecap="round"/><line x1="0.54" y1="4.86" x2="0.07" y2="5.54" stroke="#111" stroke-width="0.75" stroke-linecap="round"/><line x1="5.89" y1="5.79" x2="5.29" y2="6.93" stroke="#111" stroke-width="0.75" stroke-linecap="round"/><line x1="0.94" y1="0.09" x2="0.87" y2="0.93" stroke="#111" stroke-width="0.75" stroke-linecap="round"/><line x1="1.14" y1="1.45" x2="2.31" y2="1.56" stroke="#111" stroke-width="0.75" stroke-linecap="round"/><line x1="2.64" y1="5.05" x2="2.57" y2="6.36" stroke="#111" stroke-width="0.75" stroke-linecap="round"/><line x1="3.00" y1="3.97" x2="3.14" y2="4.99" stroke="#111" stroke-width="0.75" stroke-linecap="round"/><line x1="5.99" y1="5.97" x2="4.79" y2="6.63" stroke="#111" stroke-width="0.75" stroke-linecap="round"/><line x1="1.89" y1="1.38" x2="2.42" y2="2.05" stroke="#111" stroke-width="0.75" stroke-linecap="round"/><line x1="4.60" y1="2.40" x2="3.62" y2="2.92" stroke="#111" stroke-width="0.75" stroke-linecap="round"/><line x1="5.75" y1="5.08" x2="6.72" y2="5.09" stroke="#111" stroke-width="0.75" stroke-linecap="round"/><line x1="5.46" y1="2.82" x2="4.35" y2="2.89" stroke="#111" stroke-width="0.75" stroke-linecap="round"/><line x1="0.44" y1="3.78" x2="-0.34" y2="4.43" stroke="#111" stroke-width="0.75" stroke-linecap="round"/><line x1="0.52" y1="2.00" x2="-0.87" y2="2.16" stroke="#111" stroke-width="0.75" stroke-linecap="round"/><line x1="0.71" y1="1.48" x2="1.51" y2="1.74" stroke="#111" stroke-width="0.75" stroke-linecap="round"/><line x1="4.78" y1="1.07" x2="4.57" y2="2.20" stroke="#111" stroke-width="0.75" stroke-linecap="round"/><line x1="1.14" y1="4.39" x2="2.35" y2="4.92" stroke="#111" stroke-width="0.75" stroke-linecap="round"/><line x1="0.70" y1="2.52" x2="1.50" y2="3.15" stroke="#111" stroke-width="0.75" stroke-linecap="round"/><line x1="5.83" y1="4.82" x2="6.70" y2="6.05" stroke="#111" stroke-width="0.75" stroke-linecap="round"/><line x1="1.26" y1="2.37" x2="0.09" y2="2.95" stroke="#111" stroke-width="0.75" stroke-linecap="round"/></pattern></defs>
<text x="128.4" y="267.2" font-size="8.5" fill="#222" text-anchor="middle">HSC (CD49F) (n = 209)</text>
<g transform="translate(65.6,277.5)"><use href="#cmap"/><path d="M22.30,6.80 C21.58,5.73 22.50,2.97 23.20,1.80 C23.90,0.63 25.68,-0.55 27.00,-1.00 C28.32,-1.45 30.65,-1.44 32.00,-1.20 C33.35,-0.96 35.16,-0.41 36.00,0.60 C36.84,1.60 37.75,4.30 37.60,5.50 C37.45,6.70 36.44,8.09 35.00,8.60 C33.56,9.11 29.91,9.17 28.00,8.90 C26.09,8.63 23.02,7.87 22.30,6.80 Z" fill="url(#hlp)" fill-opacity="0.2" stroke="#0a0a0a" stroke-width="1.15" stroke-dasharray="1.9 0.9"/><path d="M24.18,6.07 C23.63,5.26 24.33,3.16 24.86,2.27 C25.40,1.38 26.75,0.48 27.75,0.14 C28.76,-0.20 30.53,-0.19 31.55,-0.01 C32.58,0.17 33.95,0.59 34.59,1.36 C35.23,2.12 35.92,4.17 35.81,5.08 C35.69,5.99 34.93,7.05 33.83,7.44 C32.74,7.82 29.96,7.87 28.51,7.66 C27.07,7.46 24.73,6.88 24.18,6.07 Z" fill="none" stroke="#0a0a0a" stroke-width="1.1" stroke-dasharray="1.8 1.0"/><path d="M26.06,5.34 C25.69,4.78 26.16,3.34 26.53,2.74 C26.90,2.13 27.82,1.51 28.51,1.28 C29.19,1.05 30.40,1.05 31.11,1.18 C31.81,1.30 32.75,1.59 33.19,2.11 C33.62,2.63 34.10,4.04 34.02,4.66 C33.94,5.28 33.41,6.01 32.67,6.27 C31.92,6.54 30.02,6.57 29.03,6.43 C28.04,6.29 26.44,5.89 26.06,5.34 Z" fill="none" stroke="#0a0a0a" stroke-width="1.1" stroke-dasharray="1.8 1.0"/><path d="M27.79,4.67 C27.57,4.35 27.84,3.52 28.06,3.17 C28.27,2.81 28.80,2.46 29.20,2.33 C29.59,2.19 30.29,2.19 30.70,2.26 C31.10,2.34 31.64,2.50 31.90,2.81 C32.15,3.11 32.42,3.92 32.38,4.28 C32.33,4.64 32.03,5.05 31.60,5.21 C31.16,5.36 30.07,5.38 29.50,5.29 C28.92,5.21 28.00,4.98 27.79,4.67 Z" fill="none" stroke="#0a0a0a" stroke-width="1.1" stroke-dasharray="1.8 1.0"/></g>
<g transform="translate(157,301.3) scale(1.065,1)"><path d="M0.00,0.00 L0.00,-21.40 A21.4,21.4 0 0 1 6.35,-20.44 Z" fill="#858585" stroke="#fff" stroke-width="0.75" stroke-linejoin="round"/><path d="M0.00,0.00 L6.35,-20.44 A21.4,21.4 0 0 1 16.39,-13.76 Z" fill="#a3d5f0" stroke="#fff" stroke-width="0.75" stroke-linejoin="round"/><path d="M0.00,0.00 L16.39,-13.76 A21.4,21.4 0 0 1 8.43,19.67 Z" fill="#f0a3a6" stroke="#fff" stroke-width="0.75" stroke-linejoin="round"/><path d="M-1.86,0.38 L6.57,20.05 A21.4,21.4 0 1 1 -1.86,-21.02 Z" fill="#f3e534" stroke="#fff" stroke-width="0.75" stroke-linejoin="round"/></g>
<text x="158.5" y="278.5" font-size="5.8" fill="#333" text-anchor="start">Rest</text>
<text x="170.8" y="283.5" font-size="5.8" fill="#3b8fd3" text-anchor="start">MPP-II</text>
<text x="153" y="284.6" font-size="4.6" fill="#3d2840" text-anchor="start" font-weight="bold">4.8%</text>
<text x="160.3" y="291" font-size="4.6" fill="#3d2840" text-anchor="start" font-weight="bold">9.1%</text>
<text x="166.2" y="301.8" font-size="4.6" fill="#3d2840" text-anchor="start" font-weight="bold">29.7%</text>
<text x="181.5" y="307.7" font-size="5.8" fill="#3b8fd3" text-anchor="start">MPP-I</text>
<text x="122.3" y="306.9" font-size="5.8" fill="#3b8fd3" text-anchor="start">HSC</text>
<text x="135.4" y="304.6" font-size="4.6" fill="#3d2840" text-anchor="start" font-weight="bold">56.5%</text>
<text x="256.7" y="266.8" font-size="8.5" fill="#222" text-anchor="middle">MPP (n = 663)</text>
<g transform="translate(201.9,278)"><use href="#cmap"/><path d="M4.80,11.90 C5.40,11.21 6.99,10.54 8.80,10.20 C10.62,9.85 14.83,10.72 16.90,9.60 C18.97,8.47 20.88,4.09 22.60,2.70 C24.33,1.31 26.66,0.39 28.40,0.30 C30.14,0.21 32.64,1.14 34.20,2.10 C35.76,3.06 37.59,5.14 38.80,6.70 C40.01,8.26 41.43,10.78 42.30,12.50 C43.17,14.22 43.91,16.65 44.60,18.20 C45.29,19.75 46.73,21.41 46.90,22.80 C47.06,24.20 46.73,26.45 45.70,27.50 C44.67,28.55 41.73,29.29 40.00,29.80 C38.27,30.31 35.94,30.90 34.20,30.90 C32.46,30.90 29.96,30.49 28.40,29.80 C26.84,29.11 25.18,27.35 23.80,26.30 C22.42,25.25 20.58,23.67 19.20,22.80 C17.82,21.93 16.34,21.36 14.60,20.50 C12.86,19.64 9.07,17.96 7.60,17.10 C6.13,16.25 5.22,15.58 4.80,14.80 C4.38,14.02 4.20,12.59 4.80,11.90 Z" fill="url(#hlp)" fill-opacity="0.2" stroke="#0a0a0a" stroke-width="1.15" stroke-dasharray="1.9 0.9"/><path d="M10.05,13.04 C10.50,12.52 11.71,12.01 13.09,11.75 C14.47,11.49 17.67,12.15 19.24,11.29 C20.82,10.44 22.26,7.11 23.58,6.05 C24.89,4.99 26.66,4.29 27.98,4.23 C29.31,4.16 31.21,4.86 32.39,5.59 C33.58,6.32 34.96,7.90 35.89,9.09 C36.81,10.28 37.89,12.19 38.55,13.50 C39.21,14.81 39.77,16.66 40.30,17.83 C40.82,19.00 41.92,20.27 42.04,21.33 C42.17,22.39 41.92,24.10 41.13,24.90 C40.34,25.70 38.11,26.26 36.80,26.65 C35.49,27.03 33.71,27.48 32.39,27.48 C31.07,27.48 29.17,27.17 27.98,26.65 C26.80,26.12 25.54,24.78 24.49,23.99 C23.44,23.19 22.04,21.99 20.99,21.33 C19.94,20.66 18.82,20.23 17.50,19.58 C16.17,18.93 13.29,17.64 12.18,16.99 C11.06,16.34 10.37,15.84 10.05,15.25 C9.73,14.65 9.59,13.57 10.05,13.04 Z" fill="none" stroke="#0a0a0a" stroke-width="1.1" stroke-dasharray="1.8 1.0"/><path d="M15.29,14.18 C15.61,13.82 16.43,13.48 17.37,13.30 C18.32,13.12 20.51,13.57 21.59,12.99 C22.66,12.40 23.65,10.13 24.55,9.40 C25.45,8.67 26.66,8.20 27.57,8.15 C28.47,8.10 29.77,8.59 30.58,9.09 C31.39,9.59 32.34,10.67 32.97,11.48 C33.61,12.29 34.34,13.60 34.79,14.50 C35.25,15.39 35.63,16.66 35.99,17.46 C36.35,18.26 37.10,19.13 37.19,19.85 C37.27,20.58 37.10,21.75 36.56,22.30 C36.02,22.84 34.50,23.23 33.60,23.49 C32.70,23.76 31.49,24.06 30.58,24.06 C29.68,24.06 28.38,23.85 27.57,23.49 C26.76,23.13 25.89,22.22 25.17,21.67 C24.46,21.13 23.50,20.30 22.78,19.85 C22.06,19.40 21.30,19.10 20.39,18.66 C19.49,18.21 17.51,17.33 16.75,16.89 C15.99,16.44 15.51,16.10 15.29,15.69 C15.08,15.29 14.98,14.54 15.29,14.18 Z" fill="none" stroke="#0a0a0a" stroke-width="1.1" stroke-dasharray="1.8 1.0"/><path d="M20.10,15.23 C20.28,15.02 20.76,14.82 21.30,14.72 C21.85,14.62 23.11,14.88 23.73,14.54 C24.36,14.20 24.93,12.89 25.44,12.47 C25.96,12.05 26.66,11.78 27.18,11.75 C27.71,11.72 28.46,12.00 28.92,12.29 C29.39,12.58 29.94,13.20 30.30,13.67 C30.67,14.14 31.09,14.89 31.35,15.41 C31.62,15.93 31.84,16.66 32.04,17.12 C32.25,17.58 32.68,18.08 32.73,18.50 C32.78,18.92 32.68,19.60 32.37,19.91 C32.06,20.23 31.18,20.45 30.66,20.60 C30.15,20.75 29.45,20.93 28.92,20.93 C28.40,20.93 27.65,20.81 27.18,20.60 C26.72,20.39 26.22,19.87 25.80,19.55 C25.39,19.24 24.84,18.76 24.42,18.50 C24.01,18.24 23.57,18.07 23.04,17.81 C22.52,17.55 21.39,17.05 20.94,16.79 C20.50,16.53 20.23,16.33 20.10,16.10 C19.98,15.87 19.92,15.44 20.10,15.23 Z" fill="none" stroke="#0a0a0a" stroke-width="1.1" stroke-dasharray="1.8 1.0"/></g>
<g transform="translate(288.5,301.2) scale(1.065,1)"><path d="M0.00,0.00 L0.00,-21.30 A21.3,21.3 0 0 1 0.80,-21.28 Z" fill="#858585" stroke="#fff" stroke-width="0.75" stroke-linejoin="round"/><path d="M0.00,0.00 L0.80,-21.28 A21.3,21.3 0 0 1 11.30,-18.06 Z" fill="#f3e534" stroke="#fff" stroke-width="0.75" stroke-linejoin="round"/><path d="M0.00,0.00 L11.30,-18.06 A21.3,21.3 0 0 1 18.27,-10.96 Z" fill="#f1ecd6" stroke="#fff" stroke-width="0.75" stroke-linejoin="round"/><path d="M0.00,0.00 L18.27,-10.96 A21.3,21.3 0 0 1 21.28,-0.94 Z" fill="#5a4ba8" stroke="#fff" stroke-width="0.75" stroke-linejoin="round"/><path d="M0.00,0.00 L21.28,-0.94 A21.3,21.3 0 0 1 19.95,7.47 Z" fill="#e6443d" stroke="#fff" stroke-width="0.75" stroke-linejoin="round"/><path d="M0.00,0.00 L19.95,7.47 A21.3,21.3 0 0 1 8.95,19.33 Z" fill="#c98bcd" stroke="#fff" stroke-width="0.75" stroke-linejoin="round"/><path d="M0.00,0.00 L8.95,19.33 A21.3,21.3 0 0 1 -19.90,7.59 Z" fill="#f0a3a6" stroke="#fff" stroke-width="0.75" stroke-linejoin="round"/><path d="M-1.56,-1.08 L-21.47,6.51 A21.3,21.3 0 0 1 -1.56,-22.38 Z" fill="#a3d5f0" stroke="#fff" stroke-width="0.75" stroke-linejoin="round"/></g>
<text x="283.1" y="274.9" font-size="5.8" fill="#333" text-anchor="start">Rest</text>
<text x="283" y="280.8" font-size="4.6" fill="#3d2840" text-anchor="start" font-weight="bold">0.6%</text>
<text x="296.2" y="278.9" font-size="5.8" fill="#3b8fd3" text-anchor="start">HSC</text>
<text x="304.6" y="285.4" font-size="5.8" fill="#3b8fd3" text-anchor="start">Cyc</text>
<text x="288.5" y="286.6" font-size="4.6" fill="#3d2840" text-anchor="start" font-weight="bold">8.3%</text>
<text x="294.6" y="293" font-size="4.6" fill="#3d2840" text-anchor="start" font-weight="bold">7.5%</text>
<text x="312.3" y="292.8" font-size="5.8" fill="#3b8fd3" text-anchor="start">GMP</text>
<text x="300.8" y="297.7" font-size="4.6" fill="#3d2840" text-anchor="start" font-weight="bold">7.9%</text>
<text x="314.3" y="305.1" font-size="5.8" fill="#3b8fd3" text-anchor="start">MEP</text>
<text x="300.8" y="303.8" font-size="4.6" fill="#3d2840" text-anchor="start" font-weight="bold">6.4%</text>
<text x="295.4" y="316.2" font-size="4.6" fill="#3d2840" text-anchor="start" font-weight="bold">12.4%</text>
<text x="307.7" y="320" font-size="5.8" fill="#3b8fd3" text-anchor="start">Ly-I</text>
<text x="275.4" y="315.4" font-size="4.6" fill="#3d2840" text-anchor="start" font-weight="bold">26.1%</text>
<text x="269.2" y="325.4" font-size="5.8" fill="#3b8fd3" text-anchor="start">MPP-I</text>
<text x="268.2" y="297.7" font-size="4.6" fill="#3d2840" text-anchor="start" font-weight="bold">30.6%</text>
<text x="256.9" y="286.9" font-size="5.8" fill="#3b8fd3" text-anchor="start">MPP-II</text>
<text x="393.5" y="267.5" font-size="8.5" fill="#222" text-anchor="middle">LMPP (n = 174)</text>
<g transform="translate(340,277)"><use href="#cmap"/><path d="M33.50,22.50 C33.95,20.73 36.00,19.75 37.50,19.20 C39.00,18.64 41.85,18.46 43.50,18.80 C45.15,19.14 47.38,20.34 48.50,21.50 C49.62,22.66 50.70,25.00 51.00,26.50 C51.30,28.00 51.25,30.30 50.50,31.50 C49.75,32.70 47.73,34.05 46.00,34.50 C44.27,34.95 40.73,35.02 39.00,34.50 C37.27,33.98 35.33,32.80 34.50,31.00 C33.67,29.20 33.05,24.27 33.50,22.50 Z" fill="url(#hlp)" fill-opacity="0.2" stroke="#0a0a0a" stroke-width="1.15" stroke-dasharray="1.9 0.9"/><path d="M35.70,23.50 C36.04,22.15 37.60,21.41 38.74,20.99 C39.88,20.57 42.05,20.43 43.30,20.69 C44.55,20.95 46.25,21.86 47.10,22.74 C47.95,23.62 48.77,25.40 49.00,26.54 C49.23,27.68 49.19,29.43 48.62,30.34 C48.05,31.25 46.51,32.28 45.20,32.62 C43.89,32.96 41.19,33.02 39.88,32.62 C38.57,32.22 37.09,31.33 36.46,29.96 C35.83,28.59 35.36,24.85 35.70,23.50 Z" fill="none" stroke="#0a0a0a" stroke-width="1.1" stroke-dasharray="1.8 1.0"/><path d="M37.90,24.50 C38.13,23.58 39.20,23.07 39.98,22.78 C40.76,22.50 42.24,22.40 43.10,22.58 C43.96,22.76 45.11,23.38 45.70,23.98 C46.28,24.58 46.84,25.80 47.00,26.58 C47.16,27.36 47.13,28.56 46.74,29.18 C46.35,29.80 45.30,30.51 44.40,30.74 C43.50,30.97 41.66,31.01 40.76,30.74 C39.86,30.47 38.85,29.86 38.42,28.92 C37.99,27.98 37.67,25.42 37.90,24.50 Z" fill="none" stroke="#0a0a0a" stroke-width="1.1" stroke-dasharray="1.8 1.0"/><path d="M39.92,25.42 C40.05,24.89 40.67,24.59 41.12,24.43 C41.57,24.26 42.42,24.20 42.92,24.31 C43.41,24.41 44.08,24.77 44.42,25.12 C44.75,25.46 45.08,26.17 45.17,26.62 C45.26,27.07 45.24,27.76 45.02,28.12 C44.79,28.48 44.18,28.88 43.67,29.02 C43.15,29.15 42.08,29.17 41.57,29.02 C41.05,28.86 40.46,28.51 40.22,27.97 C39.97,27.43 39.78,25.95 39.92,25.42 Z" fill="none" stroke="#0a0a0a" stroke-width="1.1" stroke-dasharray="1.8 1.0"/></g>
<g transform="translate(427,296.7) scale(1.065,1)"><path d="M0.00,0.00 L0.00,-21.30 A21.3,21.3 0 0 1 10.50,-18.53 Z" fill="#858585" stroke="#fff" stroke-width="0.75" stroke-linejoin="round"/><path d="M0.00,0.00 L10.50,-18.53 A21.3,21.3 0 0 1 15.89,-14.19 Z" fill="#f0a3a6" stroke="#fff" stroke-width="0.75" stroke-linejoin="round"/><path d="M0.00,0.00 L15.89,-14.19 A21.3,21.3 0 0 1 20.13,-6.96 Z" fill="#a3d5f0" stroke="#fff" stroke-width="0.75" stroke-linejoin="round"/><path d="M0.00,0.00 L20.13,-6.96 A21.3,21.3 0 0 1 21.19,2.14 Z" fill="#b23c9a" stroke="#fff" stroke-width="0.75" stroke-linejoin="round"/><path d="M0.00,0.00 L21.19,2.14 A21.3,21.3 0 0 1 16.24,13.78 Z" fill="#5a4ba8" stroke="#fff" stroke-width="0.75" stroke-linejoin="round"/><path d="M-1.72,0.80 L14.52,14.58 A21.3,21.3 0 1 1 -1.72,-20.50 Z" fill="#c98bcd" stroke="#fff" stroke-width="0.75" stroke-linejoin="round"/></g>
<text x="434.3" y="273.7" font-size="5.8" fill="#333" text-anchor="start">Rest</text>
<text x="444.3" y="280.2" font-size="5.8" fill="#3b8fd3" text-anchor="start">MPP-I</text>
<text x="449.7" y="287.5" font-size="5.8" fill="#3b8fd3" text-anchor="start">MPP-II</text>
<text x="452.8" y="298.3" font-size="5.8" fill="#3b8fd3" text-anchor="start">Ly-II</text>
<text x="451.2" y="309.1" font-size="5.8" fill="#3b8fd3" text-anchor="start">GMP</text>
<text x="402.5" y="316" font-size="5.8" fill="#3b8fd3" text-anchor="start">Ly-I</text>
<text x="427.4" y="280.6" font-size="4.6" fill="#3d2840" text-anchor="start" font-weight="bold">8.2%</text>
<text x="433.5" y="286.8" font-size="4.6" fill="#3d2840" text-anchor="start" font-weight="bold">5.2%</text>
<text x="436.6" y="291.8" font-size="4.6" fill="#3d2840" text-anchor="start" font-weight="bold">6.3%</text>
<text x="438.9" y="298.3" font-size="4.6" fill="#3d2840" text-anchor="start" font-weight="bold">6.9%</text>
<text x="438.9" y="306.3" font-size="4.6" fill="#3d2840" text-anchor="start" font-weight="bold">9.6%</text>
<text x="408.2" y="304.2" font-size="4.6" fill="#3d2840" text-anchor="start" font-weight="bold">63.8%</text>
<text x="128.6" y="340.2" font-size="8.5" fill="#222" text-anchor="middle">CLP (CD10) (n = 168)</text>
<g transform="translate(66.9,355)"><use href="#cmap"/><path d="M34.30,21.50 C35.00,19.86 37.44,19.04 39.00,18.70 C40.56,18.36 43.16,18.60 44.70,19.20 C46.25,19.80 48.27,21.14 49.30,22.70 C50.33,24.26 51.16,27.53 51.60,29.60 C52.04,31.67 52.37,34.76 52.20,36.50 C52.04,38.24 51.45,40.33 50.50,41.20 C49.55,42.07 47.62,42.22 45.90,42.30 C44.17,42.38 40.56,42.39 39.00,41.70 C37.44,41.01 36.20,39.52 35.50,37.70 C34.80,35.89 34.48,32.03 34.30,29.60 C34.12,27.17 33.59,23.14 34.30,21.50 Z" fill="url(#hlp)" fill-opacity="0.2" stroke="#0a0a0a" stroke-width="1.15" stroke-dasharray="1.9 0.9"/><path d="M36.46,23.77 C37.00,22.53 38.85,21.91 40.03,21.65 C41.22,21.38 43.19,21.57 44.36,22.03 C45.54,22.48 47.07,23.50 47.86,24.69 C48.65,25.87 49.28,28.36 49.61,29.93 C49.94,31.50 50.19,33.85 50.06,35.17 C49.94,36.50 49.49,38.08 48.77,38.75 C48.05,39.41 46.59,39.52 45.28,39.58 C43.97,39.64 41.22,39.65 40.03,39.13 C38.85,38.60 37.91,37.46 37.37,36.09 C36.84,34.71 36.60,31.78 36.46,29.93 C36.32,28.08 35.92,25.02 36.46,23.77 Z" fill="none" stroke="#0a0a0a" stroke-width="1.1" stroke-dasharray="1.8 1.0"/><path d="M38.62,26.05 C38.99,25.20 40.25,24.77 41.06,24.59 C41.88,24.41 43.22,24.54 44.03,24.85 C44.83,25.16 45.88,25.86 46.42,26.67 C46.96,27.48 47.39,29.18 47.62,30.26 C47.84,31.34 48.01,32.94 47.93,33.85 C47.84,34.75 47.54,35.84 47.04,36.29 C46.55,36.74 45.55,36.82 44.65,36.86 C43.76,36.90 41.88,36.91 41.06,36.55 C40.25,36.19 39.61,35.41 39.24,34.47 C38.88,33.53 38.71,31.52 38.62,30.26 C38.53,29.00 38.25,26.90 38.62,26.05 Z" fill="none" stroke="#0a0a0a" stroke-width="1.1" stroke-dasharray="1.8 1.0"/><path d="M40.60,28.13 C40.81,27.64 41.54,27.39 42.01,27.29 C42.48,27.19 43.26,27.26 43.72,27.44 C44.18,27.62 44.79,28.02 45.10,28.49 C45.41,28.96 45.66,29.94 45.79,30.56 C45.92,31.18 46.02,32.11 45.97,32.63 C45.92,33.15 45.74,33.78 45.46,34.04 C45.18,34.30 44.60,34.35 44.08,34.37 C43.56,34.39 42.48,34.40 42.01,34.19 C41.54,33.98 41.17,33.54 40.96,32.99 C40.75,32.45 40.65,31.29 40.60,30.56 C40.55,29.83 40.39,28.62 40.60,28.13 Z" fill="none" stroke="#0a0a0a" stroke-width="1.1" stroke-dasharray="1.8 1.0"/></g>
<g transform="translate(154.5,372.6) scale(1.065,1)"><path d="M0.00,0.00 L0.00,-21.20 A21.2,21.2 0 0 1 13.83,-16.07 Z" fill="#858585" stroke="#fff" stroke-width="0.75" stroke-linejoin="round"/><path d="M0.00,0.00 L13.83,-16.07 A21.2,21.2 0 0 1 19.72,-7.78 Z" fill="#9f6cc0" stroke="#fff" stroke-width="0.75" stroke-linejoin="round"/><path d="M0.00,0.00 L19.72,-7.78 A21.2,21.2 0 0 1 10.63,18.34 Z" fill="#b23c9a" stroke="#fff" stroke-width="0.75" stroke-linejoin="round"/><path d="M-1.83,0.49 L8.79,18.84 A21.2,21.2 0 1 1 -1.83,-20.71 Z" fill="#c98bcd" stroke="#fff" stroke-width="0.75" stroke-linejoin="round"/></g>
<text x="162.9" y="351.2" font-size="5.8" fill="#333" text-anchor="start">Rest</text>
<text x="175.2" y="360.2" font-size="5.8" fill="#3b8fd3" text-anchor="start">Ly-III</text>
<text x="154.5" y="361.2" font-size="4.6" fill="#3d2840" text-anchor="start" font-weight="bold">11.3%</text>
<text x="162.2" y="366.6" font-size="4.6" fill="#3d2840" text-anchor="start" font-weight="bold">7.7%</text>
<text x="163.7" y="378.9" font-size="4.6" fill="#3d2840" text-anchor="start" font-weight="bold">22.6%</text>
<text x="179.1" y="383.2" font-size="5.8" fill="#3b8fd3" text-anchor="start">Ly-II</text>
<text x="122.9" y="380.5" font-size="5.8" fill="#3b8fd3" text-anchor="start">Ly-I</text>
<text x="135.2" y="378.9" font-size="4.6" fill="#3d2840" text-anchor="start" font-weight="bold">58.3%</text>
<text x="256.5" y="339.4" font-size="8.5" fill="#222" text-anchor="middle">CLP (CD7) (n = 211)</text>
<g transform="translate(201.25,354.5)"><use href="#cmap"/><path d="M31.40,18.60 C32.25,17.12 35.21,16.89 37.10,16.80 C38.99,16.71 42.09,17.22 44.00,18.00 C45.91,18.78 48.41,20.53 49.80,22.00 C51.19,23.47 52.61,25.89 53.30,27.80 C53.99,29.71 54.58,32.80 54.40,34.70 C54.22,36.61 53.48,39.29 52.10,40.50 C50.72,41.71 47.62,42.45 45.20,42.80 C42.79,43.14 38.59,42.96 36.00,42.80 C33.41,42.63 29.98,42.39 27.90,41.70 C25.81,41.01 22.79,39.60 22.10,38.20 C21.41,36.80 22.25,33.27 23.30,32.40 C24.35,31.53 27.89,33.25 29.10,32.40 C30.32,31.54 31.05,28.77 31.40,26.70 C31.74,24.63 30.54,20.09 31.40,18.60 Z" fill="url(#hlp)" fill-opacity="0.2" stroke="#0a0a0a" stroke-width="1.15" stroke-dasharray="1.9 0.9"/><path d="M33.07,21.60 C33.72,20.47 35.97,20.30 37.40,20.23 C38.84,20.16 41.20,20.55 42.65,21.14 C44.10,21.74 46.00,23.07 47.06,24.18 C48.12,25.30 49.19,27.14 49.72,28.59 C50.24,30.04 50.69,32.39 50.55,33.84 C50.41,35.28 49.85,37.32 48.80,38.24 C47.75,39.17 45.39,39.73 43.56,39.99 C41.72,40.25 38.54,40.12 36.57,39.99 C34.60,39.87 32.00,39.68 30.41,39.16 C28.83,38.63 26.53,37.56 26.00,36.50 C25.48,35.44 26.12,32.75 26.92,32.09 C27.71,31.43 30.40,32.74 31.32,32.09 C32.25,31.44 32.81,29.33 33.07,27.76 C33.33,26.18 32.42,22.73 33.07,21.60 Z" fill="none" stroke="#0a0a0a" stroke-width="1.1" stroke-dasharray="1.8 1.0"/><path d="M34.74,24.60 C35.19,23.83 36.72,23.71 37.71,23.66 C38.69,23.62 40.30,23.88 41.29,24.29 C42.29,24.69 43.59,25.60 44.31,26.37 C45.04,27.13 45.77,28.39 46.13,29.38 C46.49,30.37 46.80,31.98 46.70,32.97 C46.61,33.96 46.22,35.36 45.51,35.99 C44.79,36.62 43.17,37.00 41.92,37.18 C40.66,37.36 38.48,37.27 37.13,37.18 C35.79,37.10 34.01,36.97 32.92,36.61 C31.84,36.25 30.27,35.52 29.91,34.79 C29.55,34.07 29.98,32.23 30.53,31.78 C31.08,31.32 32.92,32.22 33.55,31.78 C34.18,31.33 34.56,29.89 34.74,28.81 C34.92,27.74 34.30,25.37 34.74,24.60 Z" fill="none" stroke="#0a0a0a" stroke-width="1.1" stroke-dasharray="1.8 1.0"/><path d="M36.27,27.35 C36.53,26.90 37.42,26.84 37.98,26.81 C38.55,26.78 39.48,26.94 40.05,27.17 C40.63,27.40 41.38,27.93 41.80,28.37 C42.21,28.81 42.64,29.54 42.84,30.11 C43.05,30.68 43.23,31.61 43.17,32.18 C43.12,32.75 42.90,33.56 42.48,33.92 C42.07,34.28 41.14,34.51 40.41,34.61 C39.69,34.71 38.43,34.66 37.66,34.61 C36.88,34.56 35.85,34.49 35.23,34.28 C34.60,34.07 33.69,33.65 33.48,33.23 C33.28,32.81 33.53,31.75 33.84,31.49 C34.16,31.23 35.22,31.75 35.59,31.49 C35.95,31.23 36.17,30.40 36.27,29.78 C36.38,29.16 36.02,27.80 36.27,27.35 Z" fill="none" stroke="#0a0a0a" stroke-width="1.1" stroke-dasharray="1.8 1.0"/></g>
<g transform="translate(288.3,372.4) scale(1.065,1)"><path d="M0.00,0.00 L0.00,-21.40 A21.4,21.4 0 0 1 12.14,-17.62 Z" fill="#858585" stroke="#fff" stroke-width="0.75" stroke-linejoin="round"/><path d="M0.00,0.00 L12.14,-17.62 A21.4,21.4 0 0 1 15.41,-14.84 Z" fill="#a3d5f0" stroke="#fff" stroke-width="0.75" stroke-linejoin="round"/><path d="M0.00,0.00 L15.41,-14.84 A21.4,21.4 0 0 1 20.51,-6.10 Z" fill="#9f6cc0" stroke="#fff" stroke-width="0.75" stroke-linejoin="round"/><path d="M0.00,0.00 L20.51,-6.10 A21.4,21.4 0 0 1 19.99,7.63 Z" fill="#5a4ba8" stroke="#fff" stroke-width="0.75" stroke-linejoin="round"/><path d="M0.00,0.00 L19.99,7.63 A21.4,21.4 0 0 1 8.99,19.42 Z" fill="#4cc3c6" stroke="#fff" stroke-width="0.75" stroke-linejoin="round"/><path d="M0.00,0.00 L8.99,19.42 A21.4,21.4 0 0 1 -17.62,12.14 Z" fill="#b23c9a" stroke="#fff" stroke-width="0.75" stroke-linejoin="round"/><path d="M-1.68,-0.88 L-19.31,11.26 A21.4,21.4 0 0 1 -1.68,-22.28 Z" fill="#c98bcd" stroke="#fff" stroke-width="0.75" stroke-linejoin="round"/></g>
<text x="291.2" y="349.4" font-size="5.8" fill="#333" text-anchor="start">Rest</text>
<text x="304.3" y="354.3" font-size="5.8" fill="#3b8fd3" text-anchor="start">MPP-II</text>
<text x="311.2" y="362.8" font-size="5.8" fill="#3b8fd3" text-anchor="start">Ly-III</text>
<text x="315.8" y="374.3" font-size="5.8" fill="#3b8fd3" text-anchor="start">GMP</text>
<text x="308.2" y="388.9" font-size="5.8" fill="#3b8fd3" text-anchor="start">DC-Mono</text>
<text x="258.9" y="361.7" font-size="5.8" fill="#3b8fd3" text-anchor="start">Ly-I</text>
<text x="275.1" y="397.7" font-size="5.8" fill="#3b8fd3" text-anchor="start">Ly-II</text>
<text x="288.9" y="354.3" font-size="4.6" fill="#3d2840" text-anchor="start" font-weight="bold">7.6%</text>
<text x="294.3" y="358.9" font-size="4.6" fill="#3d2840" text-anchor="start" font-weight="bold">3.2%</text>
<text x="298.2" y="366.6" font-size="4.6" fill="#3d2840" text-anchor="start" font-weight="bold">7.6%</text>
<text x="298.9" y="372.8" font-size="4.6" fill="#3d2840" text-anchor="start" font-weight="bold">10.4%</text>
<text x="295.1" y="382.8" font-size="4.6" fill="#3d2840" text-anchor="start" font-weight="bold">12.3%</text>
<text x="280.5" y="386.9" font-size="4.6" fill="#3d2840" text-anchor="start" font-weight="bold">22.3%</text>
<text x="270.5" y="366.6" font-size="4.6" fill="#3d2840" text-anchor="start" font-weight="bold">34.6%</text>
<text x="393.9" y="339.4" font-size="8.5" fill="#222" text-anchor="middle">CLP (IL7RA) (n = 456)</text>
<g transform="translate(337.5,354)"><use href="#cmap"/><path d="M42.80,33.50 C43.10,32.03 44.95,31.35 46.00,31.20 C47.05,31.05 48.97,31.70 49.80,32.50 C50.62,33.30 51.32,35.23 51.50,36.50 C51.68,37.77 51.60,40.05 51.00,41.00 C50.40,41.95 48.55,42.80 47.50,42.80 C46.45,42.80 44.70,42.39 44.00,41.00 C43.30,39.61 42.50,34.97 42.80,33.50 Z" fill="url(#hlp)" fill-opacity="0.2" stroke="#0a0a0a" stroke-width="1.15" stroke-dasharray="1.9 0.9"/><path d="M43.93,34.32 C44.16,33.21 45.57,32.69 46.36,32.57 C47.16,32.46 48.62,32.96 49.25,33.56 C49.88,34.17 50.41,35.63 50.54,36.60 C50.68,37.57 50.62,39.30 50.16,40.02 C49.71,40.74 48.30,41.39 47.50,41.39 C46.71,41.39 45.38,41.08 44.84,40.02 C44.31,38.96 43.70,35.44 43.93,34.32 Z" fill="none" stroke="#0a0a0a" stroke-width="1.1" stroke-dasharray="1.8 1.0"/><path d="M45.06,35.15 C45.22,34.38 46.18,34.03 46.73,33.95 C47.27,33.87 48.27,34.21 48.70,34.63 C49.13,35.04 49.49,36.04 49.59,36.71 C49.68,37.37 49.64,38.55 49.33,39.05 C49.01,39.54 48.05,39.98 47.51,39.98 C46.96,39.98 46.05,39.77 45.69,39.05 C45.32,38.32 44.91,35.91 45.06,35.15 Z" fill="none" stroke="#0a0a0a" stroke-width="1.1" stroke-dasharray="1.8 1.0"/><path d="M46.10,35.90 C46.19,35.46 46.75,35.26 47.06,35.21 C47.38,35.16 47.95,35.36 48.20,35.60 C48.45,35.84 48.66,36.42 48.71,36.80 C48.76,37.18 48.74,37.87 48.56,38.15 C48.38,38.43 47.83,38.69 47.51,38.69 C47.20,38.69 46.67,38.57 46.46,38.15 C46.25,37.73 46.01,36.34 46.10,35.90 Z" fill="none" stroke="#0a0a0a" stroke-width="1.1" stroke-dasharray="1.8 1.0"/></g>
<g transform="translate(428.2,370.6) scale(1.065,1)"><path d="M0.00,0.00 L0.00,-21.00 A21.0,21.0 0 0 1 5.09,-20.37 Z" fill="#858585" stroke="#fff" stroke-width="0.75" stroke-linejoin="round"/><path d="M0.00,0.00 L5.09,-20.37 A21.0,21.0 0 0 1 20.60,-4.06 Z" fill="#c98bcd" stroke="#fff" stroke-width="0.75" stroke-linejoin="round"/><path d="M-1.21,1.47 L19.40,-2.60 A21.0,21.0 0 1 1 -1.21,-19.53 Z" fill="#b23c9a" stroke="#fff" stroke-width="0.75" stroke-linejoin="round"/></g>
<text x="432.3" y="350.5" font-size="5.8" fill="#333" text-anchor="start">Rest</text>
<text x="447.4" y="355.1" font-size="5.8" fill="#3b8fd3" text-anchor="start">Ly-I</text>
<text x="431.2" y="357.4" font-size="4.6" fill="#3d2840" text-anchor="start" font-weight="bold">0%</text>
<text x="434.3" y="362.3" font-size="4.6" fill="#3d2840" text-anchor="start" font-weight="bold">18.0%</text>
<text x="414.3" y="382.3" font-size="4.6" fill="#3d2840" text-anchor="start" font-weight="bold">78.1%</text>
<text x="405.8" y="390.9" font-size="5.8" fill="#3b8fd3" text-anchor="start">Ly-II</text>
<text x="128" y="420.2" font-size="8.5" fill="#222" text-anchor="middle">CMP (CD123) (n = 1242)</text>
<g transform="translate(66.9,435.3)"><use href="#cmap"/><path d="M21.80,3.50 C22.89,2.08 24.70,0.69 26.30,0.20 C27.91,-0.29 30.89,-0.29 32.50,0.20 C34.10,0.69 35.88,2.08 37.00,3.50 C38.12,4.92 39.25,7.73 40.00,9.70 C40.75,11.66 41.77,14.88 42.00,16.60 C42.23,18.33 42.02,20.06 41.50,21.20 C40.98,22.34 39.58,23.25 38.50,24.20 C37.42,25.14 35.44,26.29 34.30,27.50 C33.16,28.71 31.93,30.87 30.90,32.30 C29.86,33.72 28.43,35.91 27.40,37.00 C26.36,38.09 25.08,39.36 24.00,39.60 C22.92,39.84 21.13,39.45 20.20,38.60 C19.27,37.75 18.28,35.80 17.80,33.90 C17.32,31.99 17.12,28.31 17.00,25.90 C16.88,23.48 16.70,20.23 17.00,17.80 C17.30,15.37 18.28,11.84 19.00,9.70 C19.72,7.55 20.71,4.92 21.80,3.50 Z" fill="url(#hlp)" fill-opacity="0.2" stroke="#0a0a0a" stroke-width="1.15" stroke-dasharray="1.9 0.9"/><path d="M23.45,7.48 C24.28,6.40 25.65,5.35 26.87,4.97 C28.09,4.60 30.36,4.60 31.58,4.97 C32.80,5.35 34.14,6.40 35.00,7.48 C35.85,8.56 36.71,10.70 37.28,12.19 C37.85,13.69 38.63,16.12 38.80,17.44 C38.97,18.75 38.82,20.07 38.42,20.93 C38.02,21.80 36.96,22.49 36.14,23.21 C35.32,23.93 33.81,24.80 32.95,25.72 C32.08,26.64 31.15,28.28 30.36,29.37 C29.58,30.45 28.49,32.11 27.70,32.94 C26.92,33.77 25.94,34.73 25.12,34.92 C24.30,35.10 22.94,34.81 22.23,34.16 C21.52,33.51 20.77,32.03 20.41,30.58 C20.04,29.14 19.89,26.34 19.80,24.50 C19.71,22.67 19.57,20.19 19.80,18.35 C20.03,16.50 20.77,13.82 21.32,12.19 C21.87,10.56 22.61,8.56 23.45,7.48 Z" fill="none" stroke="#0a0a0a" stroke-width="1.1" stroke-dasharray="1.8 1.0"/><path d="M25.09,11.46 C25.66,10.72 26.60,10.00 27.43,9.74 C28.27,9.49 29.82,9.49 30.66,9.74 C31.49,10.00 32.41,10.72 33.00,11.46 C33.58,12.20 34.17,13.66 34.56,14.68 C34.95,15.71 35.48,17.37 35.60,18.27 C35.71,19.17 35.61,20.07 35.34,20.66 C35.06,21.26 34.34,21.73 33.78,22.22 C33.21,22.71 32.19,23.31 31.59,23.94 C31.00,24.57 30.36,25.69 29.82,26.44 C29.29,27.18 28.54,28.31 28.00,28.88 C27.47,29.45 26.80,30.11 26.24,30.23 C25.67,30.36 24.74,30.16 24.26,29.71 C23.78,29.27 23.26,28.26 23.01,27.27 C22.76,26.28 22.66,24.36 22.60,23.11 C22.53,21.85 22.44,20.16 22.60,18.90 C22.75,17.63 23.26,15.80 23.64,14.68 C24.01,13.57 24.52,12.20 25.09,11.46 Z" fill="none" stroke="#0a0a0a" stroke-width="1.1" stroke-dasharray="1.8 1.0"/><path d="M26.60,15.11 C26.93,14.68 27.47,14.27 27.95,14.12 C28.43,13.97 29.33,13.97 29.81,14.12 C30.29,14.27 30.82,14.68 31.16,15.11 C31.50,15.54 31.84,16.38 32.06,16.97 C32.29,17.56 32.59,18.52 32.66,19.04 C32.73,19.56 32.67,20.08 32.51,20.42 C32.35,20.76 31.94,21.03 31.61,21.32 C31.29,21.60 30.69,21.94 30.35,22.31 C30.01,22.67 29.64,23.32 29.33,23.75 C29.02,24.18 28.59,24.83 28.28,25.16 C27.97,25.49 27.59,25.87 27.26,25.94 C26.94,26.01 26.40,25.89 26.12,25.64 C25.84,25.38 25.55,24.80 25.40,24.23 C25.26,23.66 25.20,22.55 25.16,21.83 C25.13,21.10 25.07,20.13 25.16,19.40 C25.25,18.67 25.55,17.61 25.76,16.97 C25.98,16.32 26.27,15.54 26.60,15.11 Z" fill="none" stroke="#0a0a0a" stroke-width="1.1" stroke-dasharray="1.8 1.0"/></g>
<g transform="translate(157.5,455.3) scale(1.065,1)"><path d="M0.00,0.00 L0.00,-21.30 A21.3,21.3 0 0 1 6.45,-20.30 Z" fill="#858585" stroke="#fff" stroke-width="0.75" stroke-linejoin="round"/><path d="M0.00,0.00 L6.45,-20.30 A21.3,21.3 0 0 1 14.48,-15.62 Z" fill="#f1ecd6" stroke="#fff" stroke-width="0.75" stroke-linejoin="round"/><path d="M0.00,0.00 L14.48,-15.62 A21.3,21.3 0 0 1 20.26,-6.58 Z" fill="#f3e534" stroke="#fff" stroke-width="0.75" stroke-linejoin="round"/><path d="M0.00,0.00 L20.26,-6.58 A21.3,21.3 0 0 1 21.25,1.47 Z" fill="#c98bcd" stroke="#fff" stroke-width="0.75" stroke-linejoin="round"/><path d="M0.00,0.00 L21.25,1.47 A21.3,21.3 0 0 1 1.60,21.24 Z" fill="#5a4ba8" stroke="#fff" stroke-width="0.75" stroke-linejoin="round"/><path d="M0.00,0.00 L1.60,21.24 A21.3,21.3 0 0 1 -20.95,3.86 Z" fill="#a3d5f0" stroke="#fff" stroke-width="0.75" stroke-linejoin="round"/><path d="M-1.46,-1.22 L-22.41,2.64 A21.3,21.3 0 0 1 -1.46,-22.52 Z" fill="#f0a3a6" stroke="#fff" stroke-width="0.75" stroke-linejoin="round"/></g>
<text x="155.1" y="432.5" font-size="5.8" fill="#333" text-anchor="start">Rest</text>
<text x="170" y="435.5" font-size="5.8" fill="#3b8fd3" text-anchor="start">Cyc</text>
<text x="176.9" y="441.7" font-size="5.8" fill="#3b8fd3" text-anchor="start">HSC</text>
<text x="180.8" y="453.2" font-size="5.8" fill="#3b8fd3" text-anchor="start">Ly-I</text>
<text x="176.2" y="472.5" font-size="5.8" fill="#3b8fd3" text-anchor="start">GMP</text>
<text x="133.1" y="475.5" font-size="5.8" fill="#3b8fd3" text-anchor="start">MPP-II</text>
<text x="128.9" y="440.6" font-size="5.8" fill="#3b8fd3" text-anchor="start">MPP-I</text>
<text x="141.5" y="447.1" font-size="4.6" fill="#3d2840" text-anchor="start" font-weight="bold">27.9%</text>
<text x="144.6" y="465.8" font-size="4.6" fill="#3d2840" text-anchor="start" font-weight="bold">23.3%</text>
<text x="163.8" y="465.2" font-size="4.6" fill="#3d2840" text-anchor="start" font-weight="bold">22.7%</text>
<text x="168.5" y="454" font-size="4.6" fill="#3d2840" text-anchor="start" font-weight="bold">6.1%</text>
<text x="166.2" y="447.8" font-size="4.6" fill="#3d2840" text-anchor="start" font-weight="bold">8.1%</text>
<text x="162.3" y="441.2" font-size="4.6" fill="#3d2840" text-anchor="start" font-weight="bold">7.0%</text>
<text x="158.5" y="436.3" font-size="4.6" fill="#3d2840" text-anchor="start" font-weight="bold">5.9%</text>
<text x="257" y="420.2" font-size="8.5" fill="#222" text-anchor="middle">GMP (CD123) (n = 1023)</text>
<g transform="translate(202.5,432)"><use href="#cmap"/><path d="M18.60,30.60 C19.11,28.35 20.27,26.02 22.00,24.80 C23.73,23.59 28.36,23.54 30.10,22.50 C31.84,21.46 32.22,18.75 33.60,17.90 C34.98,17.04 37.57,16.62 39.30,16.80 C41.02,16.98 43.54,17.72 45.10,19.10 C46.66,20.48 48.48,23.93 49.70,26.00 C50.92,28.07 52.86,30.83 53.20,32.90 C53.55,34.97 53.04,38.49 52.00,39.80 C50.96,41.10 48.20,41.24 46.30,41.60 C44.39,41.96 41.38,41.95 39.30,42.20 C37.21,42.46 34.65,43.13 32.40,43.30 C30.15,43.46 26.37,43.82 24.30,43.30 C22.23,42.77 19.46,41.70 18.60,39.80 C17.75,37.89 18.09,32.85 18.60,30.60 Z" fill="url(#hlp)" fill-opacity="0.2" stroke="#0a0a0a" stroke-width="1.15" stroke-dasharray="1.9 0.9"/><path d="M22.78,30.81 C23.17,29.10 24.06,27.32 25.37,26.40 C26.68,25.48 30.20,25.44 31.52,24.65 C32.85,23.87 33.14,21.81 34.18,21.16 C35.23,20.51 37.21,20.18 38.52,20.32 C39.83,20.46 41.74,21.02 42.92,22.07 C44.11,23.12 45.50,25.74 46.42,27.31 C47.34,28.89 48.82,30.98 49.08,32.56 C49.34,34.13 48.96,36.81 48.17,37.80 C47.38,38.79 45.28,38.90 43.84,39.17 C42.39,39.44 40.10,39.43 38.52,39.63 C36.93,39.82 34.98,40.34 33.27,40.46 C31.56,40.59 28.69,40.86 27.12,40.46 C25.54,40.06 23.43,39.25 22.78,37.80 C22.13,36.35 22.40,32.52 22.78,30.81 Z" fill="none" stroke="#0a0a0a" stroke-width="1.1" stroke-dasharray="1.8 1.0"/><path d="M26.97,31.02 C27.23,29.85 27.84,28.63 28.74,28.00 C29.63,27.37 32.04,27.34 32.95,26.81 C33.85,26.27 34.05,24.86 34.77,24.41 C35.49,23.97 36.84,23.75 37.73,23.84 C38.63,23.94 39.94,24.32 40.75,25.04 C41.56,25.76 42.51,27.55 43.14,28.63 C43.77,29.70 44.78,31.14 44.96,32.21 C45.14,33.29 44.88,35.12 44.34,35.80 C43.80,36.48 42.36,36.55 41.37,36.74 C40.38,36.93 38.82,36.92 37.73,37.05 C36.65,37.18 35.32,37.54 34.15,37.62 C32.98,37.71 31.01,37.90 29.93,37.62 C28.86,37.35 27.41,36.79 26.97,35.80 C26.52,34.81 26.70,32.19 26.97,31.02 Z" fill="none" stroke="#0a0a0a" stroke-width="1.1" stroke-dasharray="1.8 1.0"/><path d="M30.80,31.21 C30.96,30.54 31.31,29.83 31.82,29.47 C32.34,29.11 33.73,29.09 34.26,28.78 C34.78,28.47 34.89,27.66 35.30,27.40 C35.72,27.14 36.50,27.02 37.02,27.07 C37.53,27.12 38.29,27.35 38.76,27.76 C39.22,28.17 39.77,29.21 40.13,29.83 C40.50,30.45 41.08,31.28 41.19,31.90 C41.29,32.52 41.14,33.58 40.83,33.97 C40.51,34.36 39.69,34.40 39.11,34.51 C38.54,34.62 37.64,34.61 37.02,34.69 C36.39,34.77 35.62,34.97 34.95,35.02 C34.27,35.07 33.14,35.18 32.52,35.02 C31.89,34.86 31.06,34.54 30.80,33.97 C30.55,33.40 30.65,31.89 30.80,31.21 Z" fill="none" stroke="#0a0a0a" stroke-width="1.1" stroke-dasharray="1.8 1.0"/></g>
<g transform="translate(290.2,453.6) scale(1.065,1)"><path d="M0.00,0.00 L0.00,-21.30 A21.3,21.3 0 0 1 16.58,-13.37 Z" fill="#858585" stroke="#fff" stroke-width="0.75" stroke-linejoin="round"/><path d="M0.00,0.00 L16.58,-13.37 A21.3,21.3 0 0 1 20.60,5.43 Z" fill="#5a4ba8" stroke="#fff" stroke-width="0.75" stroke-linejoin="round"/><path d="M0.00,0.00 L20.60,5.43 A21.3,21.3 0 0 1 6.58,20.26 Z" fill="#b23c9a" stroke="#fff" stroke-width="0.75" stroke-linejoin="round"/><path d="M0.00,0.00 L6.58,20.26 A21.3,21.3 0 0 1 -20.82,4.52 Z" fill="#4cc3c6" stroke="#fff" stroke-width="0.75" stroke-linejoin="round"/><path d="M-1.48,-1.19 L-22.29,3.32 A21.3,21.3 0 0 1 -1.48,-22.49 Z" fill="#c98bcd" stroke="#fff" stroke-width="0.75" stroke-linejoin="round"/></g>
<text x="298.9" y="432.8" font-size="5.8" fill="#333" text-anchor="start">Rest</text>
<text x="313.5" y="448.9" font-size="5.8" fill="#3b8fd3" text-anchor="start">GMP</text>
<text x="307.1" y="472" font-size="5.8" fill="#3b8fd3" text-anchor="start">Ly-II</text>
<text x="261.2" y="476.2" font-size="5.8" fill="#3b8fd3" text-anchor="start">DC-Mono</text>
<text x="262.8" y="438.9" font-size="5.8" fill="#3b8fd3" text-anchor="start">Ly-I</text>
<text x="292.8" y="440.5" font-size="4.6" fill="#3d2840" text-anchor="start" font-weight="bold">14.2%</text>
<text x="298.9" y="451.5" font-size="4.6" fill="#3d2840" text-anchor="start" font-weight="bold">14.9%</text>
<text x="295.8" y="463.5" font-size="4.6" fill="#3d2840" text-anchor="start" font-weight="bold">15.9%</text>
<text x="275.1" y="465.4" font-size="4.6" fill="#3d2840" text-anchor="start" font-weight="bold">26.6%</text>
<text x="272" y="446.6" font-size="4.6" fill="#3d2840" text-anchor="start" font-weight="bold">28.4%</text>
<text x="394" y="419.6" font-size="8.5" fill="#222" text-anchor="middle">MEP (CD123) (n = 989)</text>
<g transform="translate(336,433.5)"><use href="#cmap"/><path d="M3.50,5.50 C4.92,5.20 7.97,8.72 10.00,10.00 C12.03,11.28 15.35,12.72 17.00,14.00 C18.65,15.28 20.85,17.38 21.00,18.50 C21.15,19.62 19.65,20.52 18.00,21.50 C16.35,22.48 11.95,23.95 10.00,25.00 C8.05,26.05 6.28,28.50 5.00,28.50 C3.72,28.50 2.52,26.35 1.50,25.00 C0.48,23.65 -1.65,21.45 -1.80,19.50 C-1.95,17.55 -0.29,14.10 0.50,12.00 C1.29,9.90 2.08,5.80 3.50,5.50 Z" fill="url(#hlp)" fill-opacity="0.2" stroke="#0a0a0a" stroke-width="1.15" stroke-dasharray="1.9 0.9"/><path d="M4.69,8.49 C5.78,8.26 8.09,10.94 9.63,11.91 C11.17,12.88 13.70,13.98 14.95,14.95 C16.21,15.92 17.88,17.51 17.99,18.37 C18.11,19.22 16.97,19.91 15.71,20.65 C14.46,21.39 11.11,22.51 9.63,23.31 C8.15,24.11 6.80,25.97 5.83,25.97 C4.86,25.97 3.95,24.33 3.17,23.31 C2.40,22.28 0.78,20.61 0.66,19.13 C0.55,17.65 1.81,15.02 2.41,13.43 C3.02,11.83 3.61,8.72 4.69,8.49 Z" fill="none" stroke="#0a0a0a" stroke-width="1.1" stroke-dasharray="1.8 1.0"/><path d="M5.89,11.48 C6.63,11.32 8.21,13.15 9.27,13.82 C10.32,14.48 12.05,15.23 12.91,15.90 C13.76,16.56 14.91,17.65 14.99,18.24 C15.06,18.82 14.28,19.29 13.43,19.80 C12.57,20.30 10.28,21.07 9.27,21.62 C8.25,22.16 7.33,23.44 6.67,23.44 C6.00,23.44 5.38,22.32 4.85,21.62 C4.32,20.91 3.21,19.77 3.13,18.76 C3.05,17.74 3.91,15.95 4.33,14.86 C4.74,13.76 5.14,11.63 5.89,11.48 Z" fill="none" stroke="#0a0a0a" stroke-width="1.1" stroke-dasharray="1.8 1.0"/><path d="M6.98,14.21 C7.41,14.12 8.32,15.18 8.93,15.56 C9.54,15.95 10.53,16.38 11.03,16.77 C11.52,17.15 12.18,17.78 12.23,18.11 C12.27,18.45 11.82,18.72 11.33,19.02 C10.83,19.31 9.51,19.75 8.93,20.06 C8.34,20.38 7.81,21.11 7.43,21.11 C7.05,21.11 6.69,20.47 6.38,20.06 C6.07,19.66 5.43,19.00 5.39,18.41 C5.34,17.83 5.84,16.79 6.08,16.16 C6.32,15.54 6.55,14.30 6.98,14.21 Z" fill="none" stroke="#0a0a0a" stroke-width="1.1" stroke-dasharray="1.8 1.0"/></g>
<g transform="translate(428.2,450.2) scale(1.065,1)"><path d="M0.00,0.00 L0.00,-21.30 A21.3,21.3 0 0 1 8.46,-19.55 Z" fill="#858585" stroke="#fff" stroke-width="0.75" stroke-linejoin="round"/><path d="M0.00,0.00 L8.46,-19.55 A21.3,21.3 0 0 1 14.19,-15.89 Z" fill="#f0a3a6" stroke="#fff" stroke-width="0.75" stroke-linejoin="round"/><path d="M0.00,0.00 L14.19,-15.89 A21.3,21.3 0 0 1 20.92,-3.99 Z" fill="#a3d5f0" stroke="#fff" stroke-width="0.75" stroke-linejoin="round"/><path d="M0.00,0.00 L20.92,-3.99 A21.3,21.3 0 0 1 18.20,11.07 Z" fill="#5a4ba8" stroke="#fff" stroke-width="0.75" stroke-linejoin="round"/><path d="M-1.66,0.93 L16.54,12.00 A21.3,21.3 0 1 1 -1.66,-20.37 Z" fill="#e6443d" stroke="#fff" stroke-width="0.75" stroke-linejoin="round"/></g>
<text x="433.2" y="428.9" font-size="5.8" fill="#333" text-anchor="start">Rest</text>
<text x="442.8" y="433.5" font-size="5.8" fill="#3b8fd3" text-anchor="start">MPP-I</text>
<text x="449.7" y="440.8" font-size="5.8" fill="#3b8fd3" text-anchor="start">MPP-II</text>
<text x="452.8" y="457.2" font-size="5.8" fill="#3b8fd3" text-anchor="start">GMP</text>
<text x="399.7" y="466.9" font-size="5.8" fill="#3b8fd3" text-anchor="start">MEP</text>
<text x="427.7" y="434.6" font-size="4.6" fill="#3d2840" text-anchor="start" font-weight="bold">6.1%</text>
<text x="432.3" y="439.2" font-size="4.6" fill="#3d2840" text-anchor="start" font-weight="bold">5.1%</text>
<text x="435.8" y="444.6" font-size="4.6" fill="#3d2840" text-anchor="start" font-weight="bold">10.4%</text>
<text x="438.2" y="453.8" font-size="4.6" fill="#3d2840" text-anchor="start" font-weight="bold">11.7%</text>
<text x="409.7" y="458.5" font-size="4.6" fill="#3d2840" text-anchor="start" font-weight="bold">66.3%</text>
<rect x="37.7" y="498.2" width="143.4" height="143.1" fill="none" stroke="#1a1a1a" stroke-width="1"/>
<line x1="34.6" y1="519.9" x2="37.7" y2="519.9" stroke="#1a1a1a" stroke-width="0.6"/>
<text x="32.2" y="521.9" font-size="6.0" fill="#3c3c3c" text-anchor="end" >10</text>
<line x1="34.6" y1="546.2" x2="37.7" y2="546.2" stroke="#1a1a1a" stroke-width="0.6"/>
<text x="32.2" y="548.2" font-size="6.0" fill="#3c3c3c" text-anchor="end" >5</text>
<line x1="34.6" y1="572.5" x2="37.7" y2="572.5" stroke="#1a1a1a" stroke-width="0.6"/>
<text x="32.2" y="574.5" font-size="6.0" fill="#3c3c3c" text-anchor="end" >0</text>
<line x1="34.6" y1="598.8" x2="37.7" y2="598.8" stroke="#1a1a1a" stroke-width="0.6"/>
<text x="32.2" y="600.8" font-size="6.0" fill="#3c3c3c" text-anchor="end" >−5</text>
<line x1="34.6" y1="625.1" x2="37.7" y2="625.1" stroke="#1a1a1a" stroke-width="0.6"/>
<text x="32.2" y="627.1" font-size="6.0" fill="#3c3c3c" text-anchor="end" >−10</text>
<line x1="42.3" y1="641.3" x2="42.3" y2="644.3" stroke="#1a1a1a" stroke-width="0.6"/>
<text x="42.3" y="654.2" font-size="6.0" fill="#3c3c3c" text-anchor="middle" >−20</text>
<line x1="80.0" y1="641.3" x2="80.0" y2="644.3" stroke="#1a1a1a" stroke-width="0.6"/>
<text x="80.0" y="654.2" font-size="6.0" fill="#3c3c3c" text-anchor="middle" >−10</text>
<line x1="117.7" y1="641.3" x2="117.7" y2="644.3" stroke="#1a1a1a" stroke-width="0.6"/>
<text x="117.7" y="654.2" font-size="6.0" fill="#3c3c3c" text-anchor="middle" >0</text>
<line x1="155.4" y1="641.3" x2="155.4" y2="644.3" stroke="#1a1a1a" stroke-width="0.6"/>
<text x="155.4" y="654.2" font-size="6.0" fill="#3c3c3c" text-anchor="middle" >10</text>
<text x="0" y="0" font-size="9" fill="#1e1e1e" text-anchor="middle" transform="translate(109.5 666.8) scale(0.715 1)">PC1: 52% variance</text>
<text x="0" y="0" font-size="9" fill="#1e1e1e" text-anchor="middle" transform="translate(14.9 570) rotate(-90) scale(0.715 1)">PC2: 14% variance</text>
<circle cx="87.6" cy="523.7" r="1.9" fill="#cf90c6" stroke="#383838" stroke-width="1.0"/>
<circle cx="92.0" cy="539.2" r="1.9" fill="#cf90c6" stroke="#383838" stroke-width="1.0"/>
<circle cx="48.2" cy="544.8" r="1.9" fill="#ffffff" stroke="#383838" stroke-width="1.0"/>
<circle cx="50.2" cy="544.1" r="1.9" fill="#ffffff" stroke="#383838" stroke-width="1.0"/>
<circle cx="53.2" cy="540.8" r="1.9" fill="#8e2f80" stroke="#383838" stroke-width="1.0"/>
<circle cx="58.8" cy="544.3" r="1.9" fill="#8e2f80" stroke="#383838" stroke-width="1.0"/>
<circle cx="74.0" cy="562.6" r="1.9" fill="#f3b8d6" stroke="#383838" stroke-width="1.0"/>
<circle cx="75.6" cy="565.1" r="1.9" fill="#f3b8d6" stroke="#383838" stroke-width="1.0"/>
<circle cx="44.0" cy="573.1" r="1.9" fill="#ffffff" stroke="#383838" stroke-width="1.0"/>
<circle cx="46.8" cy="577.6" r="1.9" fill="#ffffff" stroke="#383838" stroke-width="1.0"/>
<circle cx="62.3" cy="590.3" r="1.9" fill="#8e2f80" stroke="#383838" stroke-width="1.0"/>
<circle cx="69.6" cy="587.8" r="1.9" fill="#f3b8d6" stroke="#383838" stroke-width="1.0"/>
<circle cx="79.8" cy="585.0" r="1.9" fill="#8e2f80" stroke="#383838" stroke-width="1.0"/>
<circle cx="94.3" cy="583.5" r="1.9" fill="#cf90c6" stroke="#383838" stroke-width="1.0"/>
<circle cx="87.6" cy="569.0" r="1.9" fill="#3b3a84" stroke="#383838" stroke-width="1.0"/>
<circle cx="89.7" cy="570.3" r="1.9" fill="#3b3a84" stroke="#383838" stroke-width="1.0"/>
<circle cx="89.2" cy="571.6" r="1.9" fill="#aaaad4" stroke="#383838" stroke-width="1.0"/>
<circle cx="87.3" cy="573.1" r="1.9" fill="#aaaad4" stroke="#383838" stroke-width="1.0"/>
<circle cx="82.6" cy="597.0" r="1.9" fill="#3b3a84" stroke="#383838" stroke-width="1.0"/>
<circle cx="86.2" cy="598.4" r="1.9" fill="#3b3a84" stroke="#383838" stroke-width="1.0"/>
<circle cx="82.2" cy="599.4" r="1.9" fill="#aaaad4" stroke="#383838" stroke-width="1.0"/>
<circle cx="84.8" cy="598.7" r="1.9" fill="#3b3a84" stroke="#383838" stroke-width="1.0"/>
<circle cx="85.9" cy="610.0" r="1.9" fill="#f3b8d6" stroke="#383838" stroke-width="1.0"/>
<circle cx="169.8" cy="504.6" r="1.9" fill="#f4e62a" stroke="#383838" stroke-width="1.0"/>
<circle cx="174.0" cy="507.0" r="1.9" fill="#f4e62a" stroke="#383838" stroke-width="1.0"/>
<circle cx="162.9" cy="519.0" r="1.9" fill="#f4e62a" stroke="#383838" stroke-width="1.0"/>
<circle cx="161.0" cy="525.7" r="1.9" fill="#e6c22c" stroke="#383838" stroke-width="1.0"/>
<circle cx="165.4" cy="542.6" r="1.9" fill="#f4e62a" stroke="#383838" stroke-width="1.0"/>
<circle cx="164.0" cy="544.4" r="1.9" fill="#e6c22c" stroke="#383838" stroke-width="1.0"/>
<circle cx="161.9" cy="546.5" r="1.9" fill="#e6c22c" stroke="#383838" stroke-width="1.0"/>
<circle cx="151.1" cy="546.9" r="1.9" fill="#9fd0ea" stroke="#383838" stroke-width="1.0"/>
<circle cx="139.5" cy="555.1" r="1.9" fill="#45aeb0" stroke="#383838" stroke-width="1.0"/>
<circle cx="140.2" cy="557.6" r="1.9" fill="#45aeb0" stroke="#383838" stroke-width="1.0"/>
<circle cx="151.6" cy="562.4" r="1.9" fill="#9fd0ea" stroke="#383838" stroke-width="1.0"/>
<circle cx="147.1" cy="569.6" r="1.9" fill="#9fd0ea" stroke="#383838" stroke-width="1.0"/>
<circle cx="144.9" cy="576.1" r="1.9" fill="#9fd0ea" stroke="#383838" stroke-width="1.0"/>
<circle cx="153.2" cy="577.5" r="1.9" fill="#45aeb0" stroke="#383838" stroke-width="1.0"/>
<circle cx="151.6" cy="586.9" r="1.9" fill="#d23049" stroke="#383838" stroke-width="1.0"/>
<circle cx="141.2" cy="590.6" r="1.9" fill="#1d72b4" stroke="#383838" stroke-width="1.0"/>
<circle cx="139.8" cy="593.4" r="1.9" fill="#1d72b4" stroke="#383838" stroke-width="1.0"/>
<circle cx="160.1" cy="601.7" r="1.9" fill="#eea2aa" stroke="#383838" stroke-width="1.0"/>
<circle cx="161.5" cy="603.5" r="1.9" fill="#eea2aa" stroke="#383838" stroke-width="1.0"/>
<circle cx="150.9" cy="612.1" r="1.9" fill="#45aeb0" stroke="#383838" stroke-width="1.0"/>
<circle cx="150.2" cy="617.0" r="1.9" fill="#d23049" stroke="#383838" stroke-width="1.0"/>
<circle cx="150.9" cy="619.7" r="1.9" fill="#d23049" stroke="#383838" stroke-width="1.0"/>
<circle cx="158.5" cy="634.3" r="1.9" fill="#eea2aa" stroke="#383838" stroke-width="1.0"/>
<circle cx="159.6" cy="633.6" r="1.9" fill="#eea2aa" stroke="#383838" stroke-width="1.0"/>
<text x="187.3" y="524.2" font-size="6.2" fill="#333" text-anchor="start" >Gate name</text>
<circle cx="190.4" cy="530.1" r="2.0" fill="#f4e62a" stroke="#383838" stroke-width="0.9"/>
<text x="195.3" y="532.2" font-size="5.9" fill="#444" text-anchor="start" >HSC (CD49F)</text>
<circle cx="190.4" cy="537.5" r="2.0" fill="#e6c22c" stroke="#383838" stroke-width="0.9"/>
<text x="195.3" y="539.58" font-size="5.9" fill="#444" text-anchor="start" >HSC (CD90)</text>
<circle cx="190.4" cy="544.9" r="2.0" fill="#9fd0ea" stroke="#383838" stroke-width="0.9"/>
<text x="195.3" y="546.96" font-size="5.9" fill="#444" text-anchor="start" >MPP</text>
<circle cx="190.4" cy="552.2" r="2.0" fill="#cf90c6" stroke="#383838" stroke-width="0.9"/>
<text x="195.3" y="554.34" font-size="5.9" fill="#444" text-anchor="start" >LMPP</text>
<circle cx="190.4" cy="559.6" r="2.0" fill="#8e2f80" stroke="#383838" stroke-width="0.9"/>
<text x="195.3" y="561.72" font-size="5.9" fill="#444" text-anchor="start" >CLP (CD10)</text>
<circle cx="190.4" cy="567.0" r="2.0" fill="#ffffff" stroke="#383838" stroke-width="0.9"/>
<text x="195.3" y="569.1" font-size="5.9" fill="#444" text-anchor="start" >CLP (IL7RA)</text>
<circle cx="190.4" cy="574.4" r="2.0" fill="#f3b8d6" stroke="#383838" stroke-width="0.9"/>
<text x="195.3" y="576.48" font-size="5.9" fill="#444" text-anchor="start" >CLP (CD7)</text>
<circle cx="190.4" cy="581.8" r="2.0" fill="#1d72b4" stroke="#383838" stroke-width="0.9"/>
<text x="195.3" y="583.86" font-size="5.9" fill="#444" text-anchor="start" >CMP (CD123)</text>
<circle cx="190.4" cy="589.1" r="2.0" fill="#45aeb0" stroke="#383838" stroke-width="0.9"/>
<text x="195.3" y="591.24" font-size="5.9" fill="#444" text-anchor="start" >CMP (CD135)</text>
<circle cx="190.4" cy="596.5" r="2.0" fill="#eea2aa" stroke="#383838" stroke-width="0.9"/>
<text x="195.3" y="598.62" font-size="5.9" fill="#444" text-anchor="start" >MEP (CD123)</text>
<circle cx="190.4" cy="603.9" r="2.0" fill="#d23049" stroke="#383838" stroke-width="0.9"/>
<text x="195.3" y="606.0" font-size="5.9" fill="#444" text-anchor="start" >MEP (CD135)</text>
<circle cx="190.4" cy="611.3" r="2.0" fill="#3b3a84" stroke="#383838" stroke-width="0.9"/>
<text x="195.3" y="613.38" font-size="5.9" fill="#444" text-anchor="start" >GMP (CD123)</text>
<circle cx="190.4" cy="618.7" r="2.0" fill="#aaaad4" stroke="#383838" stroke-width="0.9"/>
<text x="195.3" y="620.7600000000001" font-size="5.9" fill="#444" text-anchor="start" >GMP (CD135)</text>
<rect x="278.8" y="498.2" width="143.2" height="142.8" fill="none" stroke="#1a1a1a" stroke-width="1"/>
<line x1="275.7" y1="521.0" x2="278.8" y2="521.0" stroke="#1a1a1a" stroke-width="0.6"/>
<text x="273.4" y="523.0" font-size="6.0" fill="#3c3c3c" text-anchor="end" >10</text>
<line x1="275.7" y1="544.9" x2="278.8" y2="544.9" stroke="#1a1a1a" stroke-width="0.6"/>
<text x="273.4" y="546.9" font-size="6.0" fill="#3c3c3c" text-anchor="end" >5</text>
<line x1="275.7" y1="568.8" x2="278.8" y2="568.8" stroke="#1a1a1a" stroke-width="0.6"/>
<text x="273.4" y="570.8" font-size="6.0" fill="#3c3c3c" text-anchor="end" >0</text>
<line x1="275.7" y1="592.7" x2="278.8" y2="592.7" stroke="#1a1a1a" stroke-width="0.6"/>
<text x="273.4" y="594.6999999999999" font-size="6.0" fill="#3c3c3c" text-anchor="end" >−5</text>
<line x1="275.7" y1="616.6" x2="278.8" y2="616.6" stroke="#1a1a1a" stroke-width="0.6"/>
<text x="273.4" y="618.5999999999999" font-size="6.0" fill="#3c3c3c" text-anchor="end" >−10</text>
<line x1="275.7" y1="640.5" x2="278.8" y2="640.5" stroke="#1a1a1a" stroke-width="0.6"/>
<text x="273.4" y="642.5" font-size="6.0" fill="#3c3c3c" text-anchor="end" >−15</text>
<line x1="304.3" y1="641" x2="304.3" y2="644" stroke="#1a1a1a" stroke-width="0.6"/>
<text x="304.3" y="654.0" font-size="6.0" fill="#3c3c3c" text-anchor="middle" >−10</text>
<line x1="336.3" y1="641" x2="336.3" y2="644" stroke="#1a1a1a" stroke-width="0.6"/>
<text x="336.3" y="654.0" font-size="6.0" fill="#3c3c3c" text-anchor="middle" >0</text>
<line x1="368.3" y1="641" x2="368.3" y2="644" stroke="#1a1a1a" stroke-width="0.6"/>
<text x="368.3" y="654.0" font-size="6.0" fill="#3c3c3c" text-anchor="middle" >10</text>
<line x1="400.3" y1="641" x2="400.3" y2="644" stroke="#1a1a1a" stroke-width="0.6"/>
<text x="400.3" y="654.0" font-size="6.0" fill="#3c3c3c" text-anchor="middle" >20</text>
<text x="0" y="0" font-size="9" fill="#1e1e1e" text-anchor="middle" transform="translate(350.3 666.5) scale(0.715 1)">PC1: 46% variance</text>
<text x="0" y="0" font-size="9" fill="#1e1e1e" text-anchor="middle" transform="translate(256.2 570) rotate(-90) scale(0.715 1)">PC2: 15% variance</text>
<path d="M296.0,505.2 L298.6,509.6 L293.4,509.6 Z" fill="#dcb0b4" stroke="#383838" stroke-width="0.95" stroke-linejoin="round"/>
<path d="M298.0,506.3 L300.6,510.7 L295.4,510.7 Z" fill="#dcb0b4" stroke="#383838" stroke-width="0.95" stroke-linejoin="round"/>
<path d="M294.3,526.7 L296.9,531.1 L291.7,531.1 Z" fill="#dcb0b4" stroke="#383838" stroke-width="0.95" stroke-linejoin="round"/>
<path d="M296.3,528.7 L298.9,533.1 L293.7,533.1 Z" fill="#dcb0b4" stroke="#383838" stroke-width="0.95" stroke-linejoin="round"/>
<path d="M305.4,522.5 L308.0,526.9 L302.8,526.9 Z" fill="#c8344a" stroke="#383838" stroke-width="0.95" stroke-linejoin="round"/>
<path d="M306.4,526.0 L309.0,530.4 L303.8,530.4 Z" fill="#c8344a" stroke="#383838" stroke-width="0.95" stroke-linejoin="round"/>
<path d="M304.6,531.8 L307.2,536.2 L302.0,536.2 Z" fill="#3a9e92" stroke="#383838" stroke-width="0.95" stroke-linejoin="round"/>
<path d="M305.7,530.8 L308.3,535.2 L303.1,535.2 Z" fill="#3a9e92" stroke="#383838" stroke-width="0.95" stroke-linejoin="round"/>
<path d="M304.6,544.3 L307.2,548.7 L302.0,548.7 Z" fill="#c8344a" stroke="#383838" stroke-width="0.95" stroke-linejoin="round"/>
<path d="M303.2,555.1 L305.8,559.5 L300.6,559.5 Z" fill="#3a9e92" stroke="#383838" stroke-width="0.95" stroke-linejoin="round"/>
<path d="M315.4,554.4 L318.0,558.8 L312.8,558.8 Z" fill="#1d72b4" stroke="#383838" stroke-width="0.95" stroke-linejoin="round"/>
<path d="M316.8,550.2 L319.4,554.6 L314.2,554.6 Z" fill="#1d72b4" stroke="#383838" stroke-width="0.95" stroke-linejoin="round"/>
<path d="M306.4,571.9 L309.0,576.3 L303.8,576.3 Z" fill="#9fd0ea" stroke="#383838" stroke-width="0.95" stroke-linejoin="round"/>
<path d="M312.3,572.9 L314.9,577.3 L309.7,577.3 Z" fill="#9fd0ea" stroke="#383838" stroke-width="0.95" stroke-linejoin="round"/>
<path d="M315.1,575.0 L317.8,579.4 L312.5,579.4 Z" fill="#1d72b4" stroke="#383838" stroke-width="0.95" stroke-linejoin="round"/>
<path d="M317.5,576.4 L320.1,580.8 L314.9,580.8 Z" fill="#1d72b4" stroke="#383838" stroke-width="0.95" stroke-linejoin="round"/>
<path d="M316.1,575.7 L318.8,580.1 L313.5,580.1 Z" fill="#1d72b4" stroke="#383838" stroke-width="0.95" stroke-linejoin="round"/>
<path d="M310.1,579.8 L312.8,584.2 L307.5,584.2 Z" fill="#9fd0ea" stroke="#383838" stroke-width="0.95" stroke-linejoin="round"/>
<path d="M306.8,591.3 L309.4,595.7 L304.2,595.7 Z" fill="#9fd0ea" stroke="#383838" stroke-width="0.95" stroke-linejoin="round"/>
<path d="M296.7,606.1 L299.3,610.5 L294.1,610.5 Z" fill="#f4e62a" stroke="#383838" stroke-width="0.95" stroke-linejoin="round"/>
<path d="M293.5,608.9 L296.1,613.3 L290.9,613.3 Z" fill="#e6c22c" stroke="#383838" stroke-width="0.95" stroke-linejoin="round"/>
<path d="M292.1,611.0 L294.8,615.4 L289.5,615.4 Z" fill="#f4e62a" stroke="#383838" stroke-width="0.95" stroke-linejoin="round"/>
<path d="M297.1,613.1 L299.8,617.5 L294.5,617.5 Z" fill="#f4e62a" stroke="#383838" stroke-width="0.95" stroke-linejoin="round"/>
<path d="M296.0,619.3 L298.6,623.7 L293.4,623.7 Z" fill="#f4e62a" stroke="#383838" stroke-width="0.95" stroke-linejoin="round"/>
<path d="M285.6,630.4 L288.2,634.8 L283.0,634.8 Z" fill="#f4e62a" stroke="#383838" stroke-width="0.95" stroke-linejoin="round"/>
<path d="M289.4,631.8 L292.0,636.2 L286.8,636.2 Z" fill="#e6c22c" stroke="#383838" stroke-width="0.95" stroke-linejoin="round"/>
<path d="M369.6,525.4 L372.2,529.8 L367.0,529.8 Z" fill="#c898c0" stroke="#383838" stroke-width="0.95" stroke-linejoin="round"/>
<path d="M371.0,536.8 L373.6,541.2 L368.4,541.2 Z" fill="#3b3a84" stroke="#383838" stroke-width="0.95" stroke-linejoin="round"/>
<path d="M373.5,537.5 L376.1,541.9 L370.9,541.9 Z" fill="#3b3a84" stroke="#383838" stroke-width="0.95" stroke-linejoin="round"/>
<path d="M374.2,540.3 L376.8,544.7 L371.6,544.7 Z" fill="#aaaad4" stroke="#383838" stroke-width="0.95" stroke-linejoin="round"/>
<path d="M372.0,538.2 L374.6,542.6 L369.4,542.6 Z" fill="#aaaad4" stroke="#383838" stroke-width="0.95" stroke-linejoin="round"/>
<path d="M367.5,549.4 L370.1,553.8 L364.9,553.8 Z" fill="#3b3a84" stroke="#383838" stroke-width="0.95" stroke-linejoin="round"/>
<path d="M370.6,548.8 L373.2,553.2 L368.0,553.2 Z" fill="#aaaad4" stroke="#383838" stroke-width="0.95" stroke-linejoin="round"/>
<path d="M369.4,554.4 L372.0,558.8 L366.8,558.8 Z" fill="#3b3a84" stroke="#383838" stroke-width="0.95" stroke-linejoin="round"/>
<path d="M368.8,551.7 L371.4,556.1 L366.2,556.1 Z" fill="#aaaad4" stroke="#383838" stroke-width="0.95" stroke-linejoin="round"/>
<path d="M363.5,560.0 L366.1,564.4 L360.9,564.4 Z" fill="#c898c0" stroke="#383838" stroke-width="0.95" stroke-linejoin="round"/>
<path d="M373.5,561.2 L376.1,565.6 L370.9,565.6 Z" fill="#8e2f80" stroke="#383838" stroke-width="0.95" stroke-linejoin="round"/>
<path d="M380.6,560.6 L383.2,565.0 L378.0,565.0 Z" fill="#f3b8d6" stroke="#383838" stroke-width="0.95" stroke-linejoin="round"/>
<path d="M385.6,558.1 L388.2,562.5 L383.0,562.5 Z" fill="#c898c0" stroke="#383838" stroke-width="0.95" stroke-linejoin="round"/>
<path d="M391.5,553.5 L394.1,557.9 L388.9,557.9 Z" fill="#8e2f80" stroke="#383838" stroke-width="0.95" stroke-linejoin="round"/>
<path d="M381.2,565.0 L383.9,569.4 L378.6,569.4 Z" fill="#f3b8d6" stroke="#383838" stroke-width="0.95" stroke-linejoin="round"/>
<path d="M366.9,575.6 L369.5,580.0 L364.2,580.0 Z" fill="#c898c0" stroke="#383838" stroke-width="0.95" stroke-linejoin="round"/>
<path d="M365.2,593.7 L367.9,598.1 L362.6,598.1 Z" fill="#c898c0" stroke="#383838" stroke-width="0.95" stroke-linejoin="round"/>
<path d="M371.0,607.7 L373.6,612.1 L368.4,612.1 Z" fill="#f3b8d6" stroke="#383838" stroke-width="0.95" stroke-linejoin="round"/>
<path d="M408.5,573.1 L411.1,577.5 L405.9,577.5 Z" fill="#ffffff" stroke="#383838" stroke-width="0.95" stroke-linejoin="round"/>
<path d="M412.5,576.2 L415.1,580.6 L409.9,580.6 Z" fill="#ffffff" stroke="#383838" stroke-width="0.95" stroke-linejoin="round"/>
<path d="M396.9,589.4 L399.5,593.8 L394.2,593.8 Z" fill="#8e2f80" stroke="#383838" stroke-width="0.95" stroke-linejoin="round"/>
<path d="M402.2,592.5 L404.9,596.9 L399.6,596.9 Z" fill="#8e2f80" stroke="#383838" stroke-width="0.95" stroke-linejoin="round"/>
<path d="M407.2,592.5 L409.9,596.9 L404.6,596.9 Z" fill="#ffffff" stroke="#383838" stroke-width="0.95" stroke-linejoin="round"/>
<circle cx="291.9" cy="504.2" r="1.9" fill="#e0443e" stroke="#383838" stroke-width="1.0"/>
<circle cx="293.9" cy="506.3" r="1.9" fill="#e0443e" stroke="#383838" stroke-width="1.0"/>
<circle cx="290.5" cy="520.2" r="1.9" fill="#e0443e" stroke="#383838" stroke-width="1.0"/>
<circle cx="293.5" cy="520.9" r="1.9" fill="#e0443e" stroke="#383838" stroke-width="1.0"/>
<circle cx="318.9" cy="525.4" r="1.9" fill="#4a4aa0" stroke="#383838" stroke-width="1.0"/>
<circle cx="318.9" cy="540.7" r="1.9" fill="#4a4aa0" stroke="#383838" stroke-width="1.0"/>
<circle cx="321.8" cy="540.7" r="1.9" fill="#4a4aa0" stroke="#383838" stroke-width="1.0"/>
<circle cx="349.3" cy="510.0" r="1.9" fill="#2193b8" stroke="#383838" stroke-width="1.0"/>
<circle cx="350.6" cy="512.6" r="1.9" fill="#2193b8" stroke="#383838" stroke-width="1.0"/>
<circle cx="355.0" cy="523.3" r="1.9" fill="#2193b8" stroke="#383838" stroke-width="1.0"/>
<circle cx="359.2" cy="527.2" r="1.9" fill="#2193b8" stroke="#383838" stroke-width="1.0"/>
<circle cx="313.3" cy="584.7" r="1.9" fill="#8ec6ea" stroke="#383838" stroke-width="1.0"/>
<circle cx="306.4" cy="590.2" r="1.9" fill="#f2a08e" stroke="#383838" stroke-width="1.0"/>
<circle cx="307.8" cy="589.7" r="1.9" fill="#f2a08e" stroke="#383838" stroke-width="1.0"/>
<circle cx="315.4" cy="597.1" r="1.9" fill="#8ec6ea" stroke="#383838" stroke-width="1.0"/>
<circle cx="317.1" cy="595.5" r="1.9" fill="#8ec6ea" stroke="#383838" stroke-width="1.0"/>
<circle cx="308.5" cy="602.4" r="1.9" fill="#f2a08e" stroke="#383838" stroke-width="1.0"/>
<circle cx="309.9" cy="604.9" r="1.9" fill="#f2a08e" stroke="#383838" stroke-width="1.0"/>
<circle cx="290.2" cy="617.4" r="1.9" fill="#ece43a" stroke="#383838" stroke-width="1.0"/>
<circle cx="290.2" cy="620.1" r="1.9" fill="#ece43a" stroke="#383838" stroke-width="1.0"/>
<circle cx="294.3" cy="628.4" r="1.9" fill="#ece43a" stroke="#383838" stroke-width="1.0"/>
<circle cx="366.9" cy="581.9" r="1.9" fill="#c68cc4" stroke="#383838" stroke-width="1.0"/>
<circle cx="372.2" cy="582.8" r="1.9" fill="#c68cc4" stroke="#383838" stroke-width="1.0"/>
<circle cx="372.5" cy="598.5" r="1.9" fill="#f2a08e" stroke="#383838" stroke-width="1.0"/>
<circle cx="374.4" cy="596.5" r="1.9" fill="#f3eede" stroke="#383838" stroke-width="1.0"/>
<circle cx="410.6" cy="578.8" r="1.9" fill="#a23590" stroke="#383838" stroke-width="1.0"/>
<circle cx="409.4" cy="584.0" r="1.9" fill="#a23590" stroke="#383838" stroke-width="1.0"/>
<circle cx="415.0" cy="596.2" r="1.9" fill="#a23590" stroke="#383838" stroke-width="1.0"/>
<text x="427.8" y="508.6" font-size="6.2" fill="#333" text-anchor="start" >Group type</text>
<circle cx="431.1" cy="514.5" r="2.2" fill="#111"/>
<text x="436.3" y="516.6" font-size="5.9" fill="#444" text-anchor="start" >Cluster</text>
<path d="M431.1,517.9 L433.8,522.4 L428.4,522.4 Z" fill="#111"/>
<text x="436.3" y="522.6" font-size="5.9" fill="#444" text-anchor="start" >Gated</text>
<text x="427.8" y="537.2" font-size="6.2" fill="#333" text-anchor="start" >Population</text>
<circle cx="430.6" cy="543.4" r="2.0" fill="#f4e62a" stroke="#383838" stroke-width="0.9"/>
<text x="436.1" y="545.5" font-size="5.9" fill="#444" text-anchor="start" >HSC (CD49F)</text>
<circle cx="430.6" cy="550.9" r="2.0" fill="#e6c22c" stroke="#383838" stroke-width="0.9"/>
<text x="436.1" y="553.02" font-size="5.9" fill="#444" text-anchor="start" >HSC (CD90)</text>
<circle cx="430.6" cy="558.4" r="2.0" fill="#9fd0ea" stroke="#383838" stroke-width="0.9"/>
<text x="436.1" y="560.54" font-size="5.9" fill="#444" text-anchor="start" >MPP</text>
<circle cx="430.6" cy="566.0" r="2.0" fill="#c898c0" stroke="#383838" stroke-width="0.9"/>
<text x="436.1" y="568.06" font-size="5.9" fill="#444" text-anchor="start" >LMPP</text>
<circle cx="430.6" cy="573.5" r="2.0" fill="#8e2f80" stroke="#383838" stroke-width="0.9"/>
<text x="436.1" y="575.58" font-size="5.9" fill="#444" text-anchor="start" >CLP (CD10)</text>
<circle cx="430.6" cy="581.0" r="2.0" fill="#ffffff" stroke="#383838" stroke-width="0.9"/>
<text x="436.1" y="583.1" font-size="5.9" fill="#444" text-anchor="start" >CLP (IL7RA)</text>
<circle cx="430.6" cy="588.5" r="2.0" fill="#f3b8d6" stroke="#383838" stroke-width="0.9"/>
<text x="436.1" y="590.62" font-size="5.9" fill="#444" text-anchor="start" >CLP (CD7)</text>
<circle cx="430.6" cy="596.0" r="2.0" fill="#1d72b4" stroke="#383838" stroke-width="0.9"/>
<text x="436.1" y="598.14" font-size="5.9" fill="#444" text-anchor="start" >CMP (CD123)</text>
<circle cx="430.6" cy="603.6" r="2.0" fill="#48b4e0" stroke="#383838" stroke-width="0.9"/>
<text x="436.1" y="605.66" font-size="5.9" fill="#444" text-anchor="start" >CMP (CD135)</text>
<circle cx="430.6" cy="611.1" r="2.0" fill="#dcb0b4" stroke="#383838" stroke-width="0.9"/>
<text x="436.1" y="613.18" font-size="5.9" fill="#444" text-anchor="start" >MEP (CD123)</text>
<circle cx="430.6" cy="618.6" r="2.0" fill="#c8344a" stroke="#383838" stroke-width="0.9"/>
<text x="436.1" y="620.6999999999999" font-size="5.9" fill="#444" text-anchor="start" >MEP (CD135)</text>
<circle cx="430.6" cy="626.1" r="2.0" fill="#3b3a84" stroke="#383838" stroke-width="0.9"/>
<text x="436.1" y="628.22" font-size="5.9" fill="#444" text-anchor="start" >GMP (CD123)</text>
<circle cx="430.6" cy="633.6" r="2.0" fill="#aaaad4" stroke="#383838" stroke-width="0.9"/>
<text x="436.1" y="635.74" font-size="5.9" fill="#444" text-anchor="start" >GMP (CD135)</text>
<text x="482" y="537.2" font-size="6.2" fill="#333" text-anchor="start" >FL clusters</text>
<circle cx="483.7" cy="543.4" r="2.0" fill="#ece43a" stroke="#383838" stroke-width="0.9"/>
<text x="489.2" y="545.5" font-size="5.9" fill="#3b8fd3" text-anchor="start" >HSC</text>
<circle cx="483.7" cy="550.5" r="2.0" fill="#f2a08e" stroke="#383838" stroke-width="0.9"/>
<text x="489.2" y="552.57" font-size="5.9" fill="#3b8fd3" text-anchor="start" >MPP-I</text>
<circle cx="483.7" cy="557.5" r="2.0" fill="#8ec6ea" stroke="#383838" stroke-width="0.9"/>
<text x="489.2" y="559.64" font-size="5.9" fill="#3b8fd3" text-anchor="start" >MPP-II</text>
<circle cx="483.7" cy="564.6" r="2.0" fill="#f3eede" stroke="#383838" stroke-width="0.9"/>
<text x="489.2" y="566.71" font-size="5.9" fill="#3b8fd3" text-anchor="start" >Cyc</text>
<circle cx="483.7" cy="571.7" r="2.0" fill="#c68cc4" stroke="#383838" stroke-width="0.9"/>
<text x="489.2" y="573.78" font-size="5.9" fill="#3b8fd3" text-anchor="start" >Ly-I</text>
<circle cx="483.7" cy="578.8" r="2.0" fill="#a23590" stroke="#383838" stroke-width="0.9"/>
<text x="489.2" y="580.85" font-size="5.9" fill="#3b8fd3" text-anchor="start" >Ly-II</text>
<circle cx="483.7" cy="585.8" r="2.0" fill="#2193b8" stroke="#383838" stroke-width="0.9"/>
<text x="489.2" y="587.92" font-size="5.9" fill="#3b8fd3" text-anchor="start" >DC-Mono</text>
<circle cx="483.7" cy="592.9" r="2.0" fill="#e0443e" stroke="#383838" stroke-width="0.9"/>
<text x="489.2" y="594.99" font-size="5.9" fill="#3b8fd3" text-anchor="start" >MEP</text>
<circle cx="483.7" cy="600.0" r="2.0" fill="#4a4aa0" stroke="#383838" stroke-width="0.9"/>
<text x="489.2" y="602.0600000000001" font-size="5.9" fill="#3b8fd3" text-anchor="start" >GMP</text>
</svg></body></html>
